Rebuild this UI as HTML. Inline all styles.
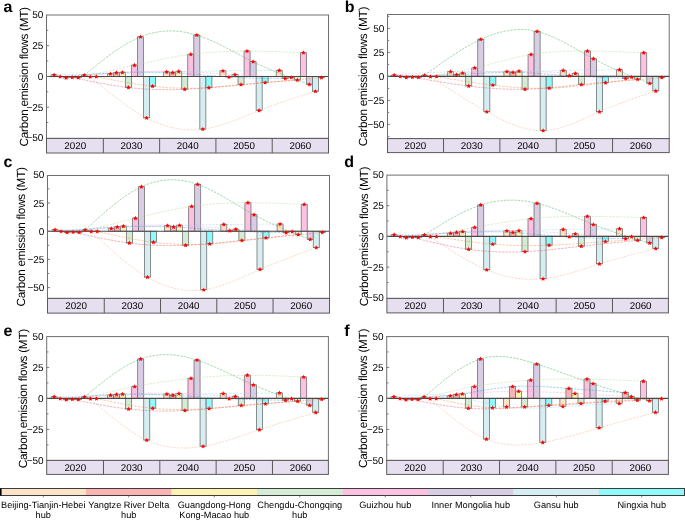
<!DOCTYPE html>
<html><head><meta charset="utf-8"><style>html,body{margin:0;padding:0;background:#fff;width:685px;height:521px;overflow:hidden}svg{display:block;will-change:transform}text{text-rendering:geometricPrecision}</style></head><body>
<svg width="685" height="521" viewBox="0 0 685 521" font-family='"Liberation Sans", sans-serif' fill="#000"><clipPath id="clipa"><rect x="46.5" y="15" width="282" height="123.4"/></clipPath>
<g>
<rect x="51.07" y="74.85" width="6.03" height="1.6" fill="#fde3c8" stroke="#6a6a6a" stroke-width="0.75"/>
<rect x="57.1" y="76.45" width="6.03" height="0.25" fill="#fbb3b3" stroke="#6a6a6a" stroke-width="0.75"/>
<rect x="63.13" y="76.45" width="6.03" height="1.48" fill="#fef2b2" stroke="#6a6a6a" stroke-width="0.75"/>
<rect x="69.16" y="76.45" width="6.03" height="0.98" fill="#d3ecd3" stroke="#6a6a6a" stroke-width="0.75"/>
<rect x="75.19" y="76.45" width="6.03" height="1.23" fill="#fdc1e1" stroke="#6a6a6a" stroke-width="0.75"/>
<rect x="81.23" y="75.1" width="6.03" height="1.35" fill="#d9cce5" stroke="#6a6a6a" stroke-width="0.75"/>
<rect x="87.26" y="76.45" width="6.03" height="0.37" fill="#d5eef2" stroke="#6a6a6a" stroke-width="0.75"/>
<rect x="93.29" y="76.45" width="6.03" height="0.25" fill="#8ffafa" stroke="#6a6a6a" stroke-width="0.75"/>
<rect x="107.36" y="73.87" width="6.03" height="2.58" fill="#fde3c8" stroke="#6a6a6a" stroke-width="0.75"/>
<rect x="113.39" y="72.76" width="6.03" height="3.69" fill="#fbb3b3" stroke="#6a6a6a" stroke-width="0.75"/>
<rect x="119.42" y="72.51" width="6.03" height="3.94" fill="#fef2b2" stroke="#6a6a6a" stroke-width="0.75"/>
<rect x="125.45" y="76.45" width="6.03" height="11.07" fill="#d3ecd3" stroke="#6a6a6a" stroke-width="0.75"/>
<rect x="131.49" y="65.26" width="6.03" height="11.19" fill="#fdc1e1" stroke="#6a6a6a" stroke-width="0.75"/>
<rect x="137.52" y="36.84" width="6.03" height="39.61" fill="#d9cce5" stroke="#6a6a6a" stroke-width="0.75"/>
<rect x="143.55" y="76.45" width="6.03" height="41.45" fill="#d5eef2" stroke="#6a6a6a" stroke-width="0.75"/>
<rect x="149.58" y="76.45" width="6.03" height="9.84" fill="#8ffafa" stroke="#6a6a6a" stroke-width="0.75"/>
<rect x="163.65" y="72.02" width="6.03" height="4.43" fill="#fde3c8" stroke="#6a6a6a" stroke-width="0.75"/>
<rect x="169.68" y="72.76" width="6.03" height="3.69" fill="#fbb3b3" stroke="#6a6a6a" stroke-width="0.75"/>
<rect x="175.71" y="71.53" width="6.03" height="4.92" fill="#fef2b2" stroke="#6a6a6a" stroke-width="0.75"/>
<rect x="181.74" y="76.45" width="6.03" height="12.79" fill="#d3ecd3" stroke="#6a6a6a" stroke-width="0.75"/>
<rect x="187.77" y="54.31" width="6.03" height="22.14" fill="#fdc1e1" stroke="#6a6a6a" stroke-width="0.75"/>
<rect x="193.81" y="35.12" width="6.03" height="41.33" fill="#d9cce5" stroke="#6a6a6a" stroke-width="0.75"/>
<rect x="199.84" y="76.45" width="6.03" height="52.77" fill="#d5eef2" stroke="#6a6a6a" stroke-width="0.75"/>
<rect x="205.87" y="76.45" width="6.03" height="11.32" fill="#8ffafa" stroke="#6a6a6a" stroke-width="0.75"/>
<rect x="219.94" y="70.92" width="6.03" height="5.54" fill="#fde3c8" stroke="#6a6a6a" stroke-width="0.75"/>
<rect x="225.97" y="76.45" width="6.03" height="0.61" fill="#fbb3b3" stroke="#6a6a6a" stroke-width="0.75"/>
<rect x="232" y="74.61" width="6.03" height="1.84" fill="#fef2b2" stroke="#6a6a6a" stroke-width="0.75"/>
<rect x="238.03" y="76.45" width="6.03" height="8.12" fill="#d3ecd3" stroke="#6a6a6a" stroke-width="0.75"/>
<rect x="244.06" y="51.11" width="6.03" height="25.34" fill="#fdc1e1" stroke="#6a6a6a" stroke-width="0.75"/>
<rect x="250.1" y="61.69" width="6.03" height="14.76" fill="#d9cce5" stroke="#6a6a6a" stroke-width="0.75"/>
<rect x="256.13" y="76.45" width="6.03" height="34.07" fill="#d5eef2" stroke="#6a6a6a" stroke-width="0.75"/>
<rect x="262.16" y="76.45" width="6.03" height="6.15" fill="#8ffafa" stroke="#6a6a6a" stroke-width="0.75"/>
<rect x="276.23" y="70.42" width="6.03" height="6.03" fill="#fde3c8" stroke="#6a6a6a" stroke-width="0.75"/>
<rect x="282.26" y="76.45" width="6.03" height="1.97" fill="#fbb3b3" stroke="#6a6a6a" stroke-width="0.75"/>
<rect x="288.29" y="76.45" width="6.03" height="0.98" fill="#fef2b2" stroke="#6a6a6a" stroke-width="0.75"/>
<rect x="294.32" y="76.45" width="6.03" height="3.69" fill="#d3ecd3" stroke="#6a6a6a" stroke-width="0.75"/>
<rect x="300.36" y="52.71" width="6.03" height="23.74" fill="#fdc1e1" stroke="#6a6a6a" stroke-width="0.75"/>
<rect x="306.39" y="76.45" width="6.03" height="8" fill="#d9cce5" stroke="#6a6a6a" stroke-width="0.75"/>
<rect x="312.42" y="76.45" width="6.03" height="14.88" fill="#d5eef2" stroke="#6a6a6a" stroke-width="0.75"/>
<rect x="318.45" y="76.45" width="6.03" height="1.23" fill="#8ffafa" stroke="#6a6a6a" stroke-width="0.75"/>
</g>
<g clip-path="url(#clipa)" fill="none" stroke-width="0.45" stroke-dasharray="2.4 1.1">
<path d="M54.1,74.9 L56.9,74.8 L59.8,74.8 L62.6,74.7 L65.5,74.7 L68.3,74.7 L71.2,74.6 L74.0,74.6 L76.9,74.5 L79.7,74.5 L82.6,74.5 L85.4,74.4 L88.3,74.4 L91.1,74.3 L94.0,74.2 L96.8,74.2 L99.7,74.1 L102.5,74.1 L105.4,74.0 L108.2,73.9 L111.1,73.8 L113.9,73.8 L116.8,73.7 L119.6,73.6 L122.5,73.5 L125.3,73.4 L128.2,73.3 L131.0,73.2 L133.9,73.1 L136.7,73.0 L139.6,72.9 L142.4,72.8 L145.3,72.7 L148.1,72.6 L151.0,72.5 L153.8,72.4 L156.7,72.3 L159.5,72.2 L162.4,72.2 L165.2,72.1 L168.1,72.0 L170.9,71.9 L173.8,71.8 L176.6,71.7 L179.5,71.7 L182.3,71.6 L185.2,71.5 L188.0,71.5 L190.9,71.4 L193.7,71.4 L196.6,71.3 L199.4,71.3 L202.3,71.2 L205.1,71.2 L208.0,71.1 L210.8,71.1 L213.7,71.0 L216.5,71.0 L219.4,71.0 L222.2,70.9 L225.1,70.9 L227.9,70.9 L230.8,70.8 L233.6,70.8 L236.5,70.8 L239.3,70.7 L242.2,70.7 L245.0,70.7 L247.9,70.7 L250.7,70.6 L253.6,70.6 L256.4,70.6 L259.3,70.6 L262.1,70.5 L265.0,70.5 L267.8,70.5 L270.7,70.5 L273.5,70.5 L276.4,70.4 L279.2,70.4" stroke="#9dd2f2"/>
<path d="M60.1,76.7 L63.0,76.5 L65.8,76.2 L68.7,76.0 L71.5,75.8 L74.4,75.5 L77.2,75.3 L80.1,75.1 L82.9,74.9 L85.8,74.7 L88.6,74.4 L91.5,74.2 L94.3,74.0 L97.2,73.8 L100.0,73.7 L102.9,73.5 L105.7,73.3 L108.6,73.2 L111.4,73.0 L114.3,72.9 L117.1,72.7 L120.0,72.6 L122.8,72.5 L125.7,72.4 L128.5,72.3 L131.4,72.2 L134.2,72.2 L137.1,72.1 L139.9,72.1 L142.8,72.1 L145.6,72.1 L148.5,72.1 L151.3,72.1 L154.2,72.1 L157.0,72.2 L159.9,72.2 L162.7,72.3 L165.6,72.4 L168.4,72.6 L171.3,72.7 L174.1,72.8 L177.0,73.0 L179.8,73.2 L182.7,73.4 L185.5,73.6 L188.4,73.8 L191.2,74.1 L194.1,74.3 L196.9,74.5 L199.8,74.8 L202.6,75.0 L205.5,75.3 L208.3,75.5 L211.2,75.7 L214.0,76.0 L216.9,76.2 L219.7,76.4 L222.6,76.6 L225.4,76.8 L228.3,77.0 L231.1,77.2 L234.0,77.3 L236.8,77.5 L239.7,77.6 L242.5,77.7 L245.4,77.8 L248.2,77.9 L251.1,78.0 L253.9,78.1 L256.8,78.1 L259.6,78.2 L262.5,78.2 L265.3,78.3 L268.2,78.3 L271.0,78.3 L273.9,78.3 L276.7,78.4 L279.6,78.4 L282.4,78.4 L285.3,78.4" stroke="#3a98d8"/>
<path d="M66.1,77.9 L69.0,77.6 L71.8,77.3 L74.7,77.0 L77.5,76.7 L80.4,76.3 L83.2,76.0 L86.1,75.7 L88.9,75.4 L91.8,75.1 L94.6,74.8 L97.5,74.6 L100.3,74.3 L103.2,74.0 L106.1,73.8 L108.9,73.5 L111.8,73.3 L114.6,73.1 L117.5,72.9 L120.3,72.7 L123.2,72.5 L126.0,72.3 L128.9,72.1 L131.7,72.0 L134.6,71.9 L137.4,71.7 L140.3,71.6 L143.1,71.5 L146.0,71.5 L148.8,71.4 L151.7,71.3 L154.5,71.3 L157.4,71.3 L160.2,71.3 L163.1,71.3 L165.9,71.3 L168.8,71.3 L171.6,71.4 L174.5,71.4 L177.3,71.5 L180.2,71.6 L183.0,71.7 L185.9,71.8 L188.7,71.9 L191.6,72.0 L194.4,72.2 L197.3,72.3 L200.1,72.5 L203.0,72.6 L205.8,72.8 L208.7,73.0 L211.5,73.1 L214.4,73.3 L217.2,73.5 L220.1,73.7 L222.9,73.9 L225.8,74.0 L228.6,74.2 L231.5,74.4 L234.3,74.6 L237.2,74.7 L240.0,74.9 L242.9,75.1 L245.7,75.2 L248.6,75.4 L251.4,75.5 L254.3,75.7 L257.1,75.8 L260.0,76.0 L262.8,76.1 L265.7,76.2 L268.5,76.4 L271.4,76.5 L274.2,76.7 L277.1,76.8 L279.9,76.9 L282.8,77.0 L285.6,77.2 L288.5,77.3 L291.3,77.4" stroke="#f2a6c8"/>
<path d="M72.2,77.4 L75.0,78.0 L77.9,78.6 L80.7,79.2 L83.6,79.8 L86.4,80.4 L89.3,81.0 L92.1,81.6 L95.0,82.1 L97.8,82.7 L100.7,83.2 L103.5,83.7 L106.4,84.2 L109.2,84.7 L112.1,85.2 L114.9,85.7 L117.8,86.1 L120.6,86.5 L123.5,86.9 L126.3,87.3 L129.2,87.6 L132.0,87.9 L134.9,88.2 L137.7,88.5 L140.6,88.7 L143.4,88.9 L146.3,89.1 L149.1,89.2 L152.0,89.4 L154.8,89.5 L157.7,89.5 L160.5,89.6 L163.4,89.6 L166.2,89.7 L169.1,89.7 L171.9,89.6 L174.8,89.6 L177.6,89.5 L180.5,89.4 L183.3,89.3 L186.2,89.2 L189.0,89.0 L191.9,88.9 L194.7,88.7 L197.6,88.5 L200.4,88.3 L203.3,88.1 L206.1,87.8 L209.0,87.6 L211.8,87.3 L214.7,87.1 L217.5,86.8 L220.4,86.5 L223.2,86.3 L226.1,86.0 L228.9,85.7 L231.8,85.4 L234.6,85.2 L237.5,84.9 L240.3,84.6 L243.2,84.4 L246.0,84.1 L248.9,83.9 L251.7,83.6 L254.6,83.4 L257.4,83.1 L260.3,82.9 L263.1,82.7 L266.0,82.5 L268.8,82.2 L271.7,82.0 L274.5,81.8 L277.4,81.6 L280.2,81.4 L283.1,81.2 L285.9,81.0 L288.8,80.8 L291.6,80.6 L294.5,80.3 L297.3,80.1" stroke="#e0506a"/>
<path d="M78.2,77.7 L81.1,77.1 L83.9,76.4 L86.8,75.8 L89.6,75.2 L92.5,74.6 L95.3,73.9 L98.2,73.3 L101.0,72.7 L103.9,72.0 L106.7,71.4 L109.6,70.8 L112.4,70.2 L115.3,69.5 L118.1,68.9 L121.0,68.3 L123.8,67.6 L126.7,67.0 L129.5,66.4 L132.4,65.7 L135.2,65.1 L138.1,64.5 L140.9,63.8 L143.8,63.2 L146.6,62.6 L149.5,61.9 L152.3,61.3 L155.2,60.7 L158.0,60.1 L160.9,59.5 L163.7,58.9 L166.6,58.4 L169.4,57.8 L172.3,57.3 L175.1,56.8 L178.0,56.3 L180.8,55.8 L183.7,55.3 L186.5,54.9 L189.4,54.5 L192.2,54.1 L195.1,53.8 L197.9,53.4 L200.8,53.1 L203.6,52.9 L206.5,52.6 L209.3,52.4 L212.2,52.2 L215.0,52.0 L217.9,51.8 L220.7,51.7 L223.6,51.5 L226.4,51.4 L229.3,51.3 L232.1,51.3 L235.0,51.2 L237.8,51.2 L240.7,51.1 L243.5,51.1 L246.4,51.1 L249.2,51.1 L252.1,51.1 L254.9,51.2 L257.8,51.2 L260.6,51.3 L263.5,51.3 L266.3,51.4 L269.2,51.4 L272.0,51.5 L274.9,51.6 L277.7,51.7 L280.6,51.8 L283.4,51.9 L286.3,52.0 L289.1,52.1 L292.0,52.2 L294.8,52.4 L297.7,52.5 L300.5,52.6 L303.4,52.7" stroke="#b0d890"/>
<path d="M84.2,75.1 L87.1,72.8 L89.9,70.5 L92.8,68.1 L95.6,65.9 L98.5,63.6 L101.3,61.4 L104.2,59.2 L107.0,57.0 L109.9,54.9 L112.7,52.8 L115.6,50.8 L118.4,48.9 L121.3,47.0 L124.1,45.3 L127.0,43.6 L129.8,42.0 L132.7,40.5 L135.5,39.0 L138.4,37.7 L141.2,36.6 L144.1,35.5 L146.9,34.5 L149.8,33.7 L152.6,33.0 L155.5,32.4 L158.3,31.9 L161.2,31.5 L164.0,31.2 L166.9,31.0 L169.7,30.9 L172.6,31.0 L175.4,31.1 L178.3,31.3 L181.1,31.6 L184.0,32.1 L186.8,32.6 L189.7,33.2 L192.5,33.9 L195.4,34.7 L198.2,35.6 L201.1,36.5 L203.9,37.6 L206.8,38.7 L209.6,39.9 L212.5,41.1 L215.3,42.4 L218.2,43.8 L221.0,45.2 L223.9,46.6 L226.7,48.1 L229.6,49.5 L232.4,51.0 L235.3,52.5 L238.1,54.0 L241.0,55.5 L243.8,57.0 L246.7,58.5 L249.5,59.9 L252.4,61.3 L255.2,62.7 L258.1,64.1 L260.9,65.4 L263.8,66.7 L266.6,67.9 L269.5,69.2 L272.3,70.4 L275.2,71.5 L278.1,72.7 L280.9,73.8 L283.8,74.9 L286.6,76.0 L289.5,77.1 L292.3,78.2 L295.2,79.3 L298.0,80.3 L300.9,81.3 L303.7,82.4 L306.6,83.4 L309.4,84.4" stroke="#3aa84a"/>
<path d="M90.3,76.8 L93.1,79.2 L96.0,81.6 L98.8,83.9 L101.7,86.3 L104.5,88.6 L107.4,90.9 L110.2,93.2 L113.1,95.4 L115.9,97.6 L118.8,99.8 L121.6,101.9 L124.5,104.0 L127.3,106.0 L130.2,108.0 L133.0,109.9 L135.9,111.7 L138.7,113.5 L141.6,115.2 L144.4,116.8 L147.3,118.3 L150.1,119.7 L153.0,121.0 L155.8,122.3 L158.7,123.4 L161.5,124.5 L164.4,125.4 L167.2,126.3 L170.1,127.1 L172.9,127.8 L175.8,128.4 L178.6,128.9 L181.5,129.3 L184.3,129.6 L187.2,129.8 L190.0,129.9 L192.9,129.9 L195.7,129.8 L198.6,129.7 L201.4,129.4 L204.3,129.0 L207.1,128.6 L210.0,128.0 L212.8,127.4 L215.7,126.6 L218.5,125.8 L221.4,125.0 L224.2,124.1 L227.1,123.1 L229.9,122.1 L232.8,121.1 L235.6,120.0 L238.5,118.9 L241.3,117.7 L244.2,116.6 L247.0,115.4 L249.9,114.3 L252.7,113.1 L255.6,111.9 L258.4,110.8 L261.3,109.7 L264.1,108.6 L267.0,107.5 L269.8,106.5 L272.7,105.4 L275.5,104.4 L278.4,103.4 L281.2,102.4 L284.1,101.5 L286.9,100.5 L289.8,99.5 L292.6,98.6 L295.5,97.7 L298.3,96.8 L301.2,95.8 L304.0,94.9 L306.9,94.0 L309.7,93.1 L312.6,92.2 L315.4,91.3" stroke="#f6b088"/>
<path d="M96.3,76.7 L99.2,77.3 L102.0,77.8 L104.9,78.4 L107.7,79.0 L110.6,79.5 L113.4,80.1 L116.3,80.6 L119.1,81.2 L122.0,81.7 L124.8,82.2 L127.7,82.7 L130.5,83.2 L133.4,83.6 L136.2,84.1 L139.1,84.5 L141.9,84.9 L144.8,85.3 L147.6,85.7 L150.5,86.0 L153.3,86.4 L156.2,86.7 L159.0,86.9 L161.9,87.2 L164.7,87.4 L167.6,87.6 L170.4,87.8 L173.3,87.9 L176.1,88.0 L179.0,88.1 L181.8,88.2 L184.7,88.2 L187.5,88.3 L190.4,88.3 L193.2,88.3 L196.1,88.2 L198.9,88.2 L201.8,88.1 L204.6,88.0 L207.5,87.8 L210.3,87.7 L213.2,87.5 L216.0,87.3 L218.9,87.1 L221.7,86.9 L224.6,86.7 L227.4,86.4 L230.3,86.2 L233.1,85.9 L236.0,85.6 L238.8,85.4 L241.7,85.1 L244.5,84.8 L247.4,84.5 L250.2,84.2 L253.1,83.9 L255.9,83.6 L258.8,83.3 L261.6,83.0 L264.5,82.7 L267.3,82.4 L270.2,82.1 L273.0,81.8 L275.9,81.6 L278.7,81.3 L281.6,81.0 L284.4,80.8 L287.3,80.5 L290.1,80.3 L293.0,80.0 L295.8,79.8 L298.7,79.5 L301.5,79.3 L304.4,79.1 L307.2,78.8 L310.1,78.6 L312.9,78.4 L315.8,78.1 L318.6,77.9 L321.5,77.7" stroke="#f0903a"/>
</g>
<line x1="46.5" y1="76.45" x2="328.5" y2="76.45" stroke="#484848" stroke-width="1.1"/>
<g fill="#ff0000">
<path d="M54.09,72.40 L54.76,73.92 L56.42,74.09 L55.18,75.21 L55.53,76.83 L54.09,76.00 L52.65,76.83 L52.99,75.21 L51.76,74.09 L53.41,73.92Z"/>
<path d="M60.12,74.25 L60.79,75.77 L62.45,75.94 L61.21,77.05 L61.56,78.68 L60.12,77.85 L58.68,78.68 L59.02,77.05 L57.79,75.94 L59.44,75.77Z"/>
<path d="M66.15,75.48 L66.82,77.00 L68.48,77.17 L67.24,78.28 L67.59,79.91 L66.15,79.08 L64.71,79.91 L65.05,78.28 L63.82,77.17 L65.47,77.00Z"/>
<path d="M72.18,74.98 L72.86,76.50 L74.51,76.68 L73.27,77.79 L73.62,79.42 L72.18,78.58 L70.74,79.42 L71.09,77.79 L69.85,76.68 L71.50,76.50Z"/>
<path d="M78.21,75.23 L78.89,76.75 L80.54,76.92 L79.30,78.04 L79.65,79.66 L78.21,78.83 L76.77,79.66 L77.12,78.04 L75.88,76.92 L77.53,76.75Z"/>
<path d="M84.24,72.65 L84.92,74.17 L86.57,74.34 L85.34,75.45 L85.68,77.08 L84.24,76.25 L82.80,77.08 L83.15,75.45 L81.91,74.34 L83.57,74.17Z"/>
<path d="M90.27,74.37 L90.95,75.89 L92.60,76.06 L91.37,77.17 L91.71,78.80 L90.27,77.97 L88.83,78.80 L89.18,77.17 L87.94,76.06 L89.60,75.89Z"/>
<path d="M96.30,74.25 L96.98,75.77 L98.63,75.94 L97.40,77.05 L97.74,78.68 L96.30,77.85 L94.86,78.68 L95.21,77.05 L93.97,75.94 L95.63,75.77Z"/>
<path d="M110.38,71.42 L111.05,72.94 L112.71,73.11 L111.47,74.22 L111.82,75.85 L110.38,75.02 L108.94,75.85 L109.28,74.22 L108.05,73.11 L109.70,72.94Z"/>
<path d="M116.41,70.31 L117.08,71.83 L118.74,72.00 L117.50,73.12 L117.85,74.74 L116.41,73.91 L114.97,74.74 L115.31,73.12 L114.08,72.00 L115.73,71.83Z"/>
<path d="M122.44,70.06 L123.11,71.58 L124.77,71.76 L123.53,72.87 L123.88,74.50 L122.44,73.66 L121.00,74.50 L121.34,72.87 L120.11,71.76 L121.76,71.58Z"/>
<path d="M128.47,85.07 L129.15,86.59 L130.80,86.76 L129.56,87.88 L129.91,89.50 L128.47,88.67 L127.03,89.50 L127.38,87.88 L126.14,86.76 L127.79,86.59Z"/>
<path d="M134.50,62.81 L135.18,64.33 L136.83,64.50 L135.59,65.61 L135.94,67.24 L134.50,66.41 L133.06,67.24 L133.41,65.61 L132.17,64.50 L133.82,64.33Z"/>
<path d="M140.53,34.39 L141.21,35.91 L142.86,36.09 L141.63,37.20 L141.97,38.83 L140.53,37.99 L139.09,38.83 L139.44,37.20 L138.20,36.09 L139.86,35.91Z"/>
<path d="M146.56,115.45 L147.24,116.97 L148.89,117.14 L147.66,118.26 L148.00,119.88 L146.56,119.05 L145.12,119.88 L145.47,118.26 L144.23,117.14 L145.89,116.97Z"/>
<path d="M152.59,83.84 L153.27,85.36 L154.92,85.53 L153.69,86.65 L154.03,88.27 L152.59,87.44 L151.15,88.27 L151.50,86.65 L150.26,85.53 L151.92,85.36Z"/>
<path d="M166.67,69.57 L167.34,71.09 L169.00,71.26 L167.76,72.38 L168.11,74.00 L166.67,73.17 L165.23,74.00 L165.57,72.38 L164.34,71.26 L165.99,71.09Z"/>
<path d="M172.70,70.31 L173.37,71.83 L175.03,72.00 L173.79,73.12 L174.14,74.74 L172.70,73.91 L171.26,74.74 L171.60,73.12 L170.37,72.00 L172.02,71.83Z"/>
<path d="M178.73,69.08 L179.40,70.60 L181.06,70.77 L179.82,71.89 L180.17,73.51 L178.73,72.68 L177.29,73.51 L177.63,71.89 L176.40,70.77 L178.05,70.60Z"/>
<path d="M184.76,86.79 L185.44,88.31 L187.09,88.48 L185.85,89.60 L186.20,91.22 L184.76,90.39 L183.32,91.22 L183.67,89.60 L182.43,88.48 L184.08,88.31Z"/>
<path d="M190.79,51.86 L191.47,53.38 L193.12,53.55 L191.88,54.67 L192.23,56.29 L190.79,55.46 L189.35,56.29 L189.70,54.67 L188.46,53.55 L190.11,53.38Z"/>
<path d="M196.82,32.67 L197.50,34.19 L199.15,34.36 L197.92,35.48 L198.26,37.10 L196.82,36.27 L195.38,37.10 L195.73,35.48 L194.49,34.36 L196.15,34.19Z"/>
<path d="M202.85,126.77 L203.53,128.29 L205.18,128.46 L203.95,129.57 L204.29,131.20 L202.85,130.37 L201.41,131.20 L201.76,129.57 L200.52,128.46 L202.18,128.29Z"/>
<path d="M208.88,85.32 L209.56,86.84 L211.21,87.01 L209.98,88.12 L210.32,89.75 L208.88,88.92 L207.44,89.75 L207.79,88.12 L206.55,87.01 L208.21,86.84Z"/>
<path d="M222.96,68.47 L223.63,69.98 L225.29,70.16 L224.05,71.27 L224.40,72.90 L222.96,72.07 L221.52,72.90 L221.86,71.27 L220.63,70.16 L222.28,69.98Z"/>
<path d="M228.99,74.61 L229.66,76.13 L231.32,76.31 L230.08,77.42 L230.43,79.05 L228.99,78.22 L227.55,79.05 L227.89,77.42 L226.66,76.31 L228.31,76.13Z"/>
<path d="M235.02,72.16 L235.69,73.67 L237.35,73.85 L236.11,74.96 L236.46,76.59 L235.02,75.76 L233.58,76.59 L233.92,74.96 L232.69,73.85 L234.34,73.67Z"/>
<path d="M241.05,82.12 L241.73,83.64 L243.38,83.81 L242.14,84.92 L242.49,86.55 L241.05,85.72 L239.61,86.55 L239.96,84.92 L238.72,83.81 L240.37,83.64Z"/>
<path d="M247.08,48.66 L247.76,50.18 L249.41,50.35 L248.17,51.47 L248.52,53.09 L247.08,52.26 L245.64,53.09 L245.99,51.47 L244.75,50.35 L246.40,50.18Z"/>
<path d="M253.11,59.24 L253.79,60.76 L255.44,60.93 L254.21,62.05 L254.55,63.67 L253.11,62.84 L251.67,63.67 L252.02,62.05 L250.78,60.93 L252.44,60.76Z"/>
<path d="M259.14,108.07 L259.82,109.59 L261.47,109.76 L260.24,110.88 L260.58,112.50 L259.14,111.67 L257.70,112.50 L258.05,110.88 L256.81,109.76 L258.47,109.59Z"/>
<path d="M265.17,80.15 L265.85,81.67 L267.50,81.84 L266.27,82.96 L266.61,84.58 L265.17,83.75 L263.73,84.58 L264.08,82.96 L262.84,81.84 L264.50,81.67Z"/>
<path d="M279.25,67.97 L279.92,69.49 L281.58,69.67 L280.34,70.78 L280.69,72.41 L279.25,71.57 L277.81,72.41 L278.15,70.78 L276.92,69.67 L278.57,69.49Z"/>
<path d="M285.28,75.97 L285.95,77.49 L287.61,77.66 L286.37,78.77 L286.72,80.40 L285.28,79.57 L283.84,80.40 L284.18,78.77 L282.95,77.66 L284.60,77.49Z"/>
<path d="M291.31,74.98 L291.98,76.50 L293.64,76.68 L292.40,77.79 L292.75,79.42 L291.31,78.58 L289.87,79.42 L290.21,77.79 L288.98,76.68 L290.63,76.50Z"/>
<path d="M297.34,77.69 L298.02,79.21 L299.67,79.38 L298.43,80.50 L298.78,82.12 L297.34,81.29 L295.90,82.12 L296.25,80.50 L295.01,79.38 L296.66,79.21Z"/>
<path d="M303.37,50.26 L304.05,51.78 L305.70,51.95 L304.46,53.07 L304.81,54.69 L303.37,53.86 L301.93,54.69 L302.28,53.07 L301.04,51.95 L302.69,51.78Z"/>
<path d="M309.40,82.00 L310.08,83.51 L311.73,83.69 L310.50,84.80 L310.84,86.43 L309.40,85.60 L307.96,86.43 L308.31,84.80 L307.07,83.69 L308.73,83.51Z"/>
<path d="M315.43,88.88 L316.11,90.40 L317.76,90.58 L316.53,91.69 L316.87,93.32 L315.43,92.48 L313.99,93.32 L314.34,91.69 L313.10,90.58 L314.76,90.40Z"/>
<path d="M321.46,75.23 L322.14,76.75 L323.79,76.92 L322.56,78.04 L322.90,79.66 L321.46,78.83 L320.02,79.66 L320.37,78.04 L319.13,76.92 L320.79,76.75Z"/>
</g>
<rect x="46.5" y="15" width="282" height="123.4" fill="none" stroke="#6e6e6e" stroke-width="1.0"/>
<g stroke="#6e6e6e" stroke-width="0.9"><line x1="46.5" y1="122.58" x2="48.3" y2="122.58"/><line x1="46.5" y1="107.2" x2="49" y2="107.2"/><line x1="46.5" y1="91.83" x2="48.3" y2="91.83"/><line x1="46.5" y1="76.45" x2="49" y2="76.45"/><line x1="46.5" y1="61.08" x2="48.3" y2="61.08"/><line x1="46.5" y1="45.7" x2="49" y2="45.7"/><line x1="46.5" y1="30.33" x2="48.3" y2="30.33"/></g>
<text x="43.4" y="18.45" text-anchor="end" font-size="10.0">50</text>
<text x="43.4" y="49.2" text-anchor="end" font-size="10.0">25</text>
<text x="43.4" y="79.95" text-anchor="end" font-size="10.0">0</text>
<text x="43.4" y="110.7" text-anchor="end" font-size="10.0">−25</text>
<text x="43.4" y="141.45" text-anchor="end" font-size="10.0">−50</text>
<rect x="46.5" y="138.4" width="282" height="14.6" fill="#e6dff0" stroke="#5a5a5a" stroke-width="1"/>
<line x1="103.34" y1="138.4" x2="103.34" y2="153" stroke="#5a5a5a" stroke-width="1"/>
<line x1="159.63" y1="138.4" x2="159.63" y2="153" stroke="#5a5a5a" stroke-width="1"/>
<line x1="215.92" y1="138.4" x2="215.92" y2="153" stroke="#5a5a5a" stroke-width="1"/>
<line x1="272.21" y1="138.4" x2="272.21" y2="153" stroke="#5a5a5a" stroke-width="1"/>
<text x="75.19" y="149.1" text-anchor="middle" font-size="9.8">2020</text>
<text x="131.49" y="149.1" text-anchor="middle" font-size="9.8">2030</text>
<text x="187.77" y="149.1" text-anchor="middle" font-size="9.8">2040</text>
<text x="244.06" y="149.1" text-anchor="middle" font-size="9.8">2050</text>
<text x="300.36" y="149.1" text-anchor="middle" font-size="9.8">2060</text>
<text transform="translate(27.6,76.7) rotate(-90)" text-anchor="middle" font-size="11.8" textLength="139.5" lengthAdjust="spacing">Carbon emission flows (MT)</text>
<text x="3.4" y="11.5" font-size="16.0" font-weight="bold">a</text>
<clipPath id="clipb"><rect x="387.5" y="14.5" width="281.7" height="124.1"/></clipPath>
<g>
<rect x="391.25" y="75.15" width="6.04" height="1.25" fill="#fde3c8" stroke="#6a6a6a" stroke-width="0.75"/>
<rect x="397.29" y="76.4" width="6.04" height="0.19" fill="#fbb3b3" stroke="#6a6a6a" stroke-width="0.75"/>
<rect x="403.32" y="76.4" width="6.04" height="1.15" fill="#fef2b2" stroke="#6a6a6a" stroke-width="0.75"/>
<rect x="409.36" y="76.4" width="6.04" height="0.77" fill="#d3ecd3" stroke="#6a6a6a" stroke-width="0.75"/>
<rect x="415.4" y="76.4" width="6.04" height="0.96" fill="#fdc1e1" stroke="#6a6a6a" stroke-width="0.75"/>
<rect x="421.43" y="75.34" width="6.04" height="1.06" fill="#d9cce5" stroke="#6a6a6a" stroke-width="0.75"/>
<rect x="427.47" y="76.4" width="6.04" height="0.29" fill="#d5eef2" stroke="#6a6a6a" stroke-width="0.75"/>
<rect x="433.5" y="76.4" width="6.04" height="0.19" fill="#8ffafa" stroke="#6a6a6a" stroke-width="0.75"/>
<rect x="447.58" y="71.7" width="6.04" height="4.7" fill="#fde3c8" stroke="#6a6a6a" stroke-width="0.75"/>
<rect x="453.62" y="74.67" width="6.04" height="1.73" fill="#fbb3b3" stroke="#6a6a6a" stroke-width="0.75"/>
<rect x="459.65" y="73.14" width="6.04" height="3.26" fill="#fef2b2" stroke="#6a6a6a" stroke-width="0.75"/>
<rect x="465.69" y="76.4" width="6.04" height="9.6" fill="#d3ecd3" stroke="#6a6a6a" stroke-width="0.75"/>
<rect x="471.73" y="67.95" width="6.04" height="8.45" fill="#fdc1e1" stroke="#6a6a6a" stroke-width="0.75"/>
<rect x="477.76" y="39.34" width="6.04" height="37.06" fill="#d9cce5" stroke="#6a6a6a" stroke-width="0.75"/>
<rect x="483.8" y="76.4" width="6.04" height="35.42" fill="#d5eef2" stroke="#6a6a6a" stroke-width="0.75"/>
<rect x="489.83" y="76.4" width="6.04" height="8.74" fill="#8ffafa" stroke="#6a6a6a" stroke-width="0.75"/>
<rect x="503.91" y="71.6" width="6.04" height="4.8" fill="#fde3c8" stroke="#6a6a6a" stroke-width="0.75"/>
<rect x="509.95" y="72.37" width="6.04" height="4.03" fill="#fbb3b3" stroke="#6a6a6a" stroke-width="0.75"/>
<rect x="515.98" y="71.22" width="6.04" height="5.18" fill="#fef2b2" stroke="#6a6a6a" stroke-width="0.75"/>
<rect x="522.02" y="76.4" width="6.04" height="12.86" fill="#d3ecd3" stroke="#6a6a6a" stroke-width="0.75"/>
<rect x="528.06" y="54.42" width="6.04" height="21.98" fill="#fdc1e1" stroke="#6a6a6a" stroke-width="0.75"/>
<rect x="534.09" y="31.47" width="6.04" height="44.93" fill="#d9cce5" stroke="#6a6a6a" stroke-width="0.75"/>
<rect x="540.13" y="76.4" width="6.04" height="54.24" fill="#d5eef2" stroke="#6a6a6a" stroke-width="0.75"/>
<rect x="546.16" y="76.4" width="6.04" height="11.81" fill="#8ffafa" stroke="#6a6a6a" stroke-width="0.75"/>
<rect x="560.24" y="70.54" width="6.04" height="5.86" fill="#fde3c8" stroke="#6a6a6a" stroke-width="0.75"/>
<rect x="566.28" y="75.73" width="6.04" height="0.67" fill="#fbb3b3" stroke="#6a6a6a" stroke-width="0.75"/>
<rect x="572.31" y="73.52" width="6.04" height="2.88" fill="#fef2b2" stroke="#6a6a6a" stroke-width="0.75"/>
<rect x="578.35" y="76.4" width="6.04" height="8.16" fill="#d3ecd3" stroke="#6a6a6a" stroke-width="0.75"/>
<rect x="584.38" y="51.06" width="6.04" height="25.34" fill="#fdc1e1" stroke="#6a6a6a" stroke-width="0.75"/>
<rect x="590.42" y="58.74" width="6.04" height="17.66" fill="#d9cce5" stroke="#6a6a6a" stroke-width="0.75"/>
<rect x="596.46" y="76.4" width="6.04" height="35.42" fill="#d5eef2" stroke="#6a6a6a" stroke-width="0.75"/>
<rect x="602.49" y="76.4" width="6.04" height="6.34" fill="#8ffafa" stroke="#6a6a6a" stroke-width="0.75"/>
<rect x="616.57" y="69.78" width="6.04" height="6.62" fill="#fde3c8" stroke="#6a6a6a" stroke-width="0.75"/>
<rect x="622.61" y="76.4" width="6.04" height="1.92" fill="#fbb3b3" stroke="#6a6a6a" stroke-width="0.75"/>
<rect x="628.64" y="76.4" width="6.04" height="0.77" fill="#fef2b2" stroke="#6a6a6a" stroke-width="0.75"/>
<rect x="634.68" y="76.4" width="6.04" height="2.98" fill="#d3ecd3" stroke="#6a6a6a" stroke-width="0.75"/>
<rect x="640.72" y="52.78" width="6.04" height="23.62" fill="#fdc1e1" stroke="#6a6a6a" stroke-width="0.75"/>
<rect x="646.75" y="76.4" width="6.04" height="7.01" fill="#d9cce5" stroke="#6a6a6a" stroke-width="0.75"/>
<rect x="652.79" y="76.4" width="6.04" height="14.59" fill="#d5eef2" stroke="#6a6a6a" stroke-width="0.75"/>
<rect x="658.82" y="76.4" width="6.04" height="1.15" fill="#8ffafa" stroke="#6a6a6a" stroke-width="0.75"/>
</g>
<g clip-path="url(#clipb)" fill="none" stroke-width="0.45" stroke-dasharray="2.4 1.1">
<path d="M394.3,75.2 L397.1,74.9 L400.0,74.7 L402.8,74.5 L405.7,74.3 L408.5,74.0 L411.4,73.8 L414.2,73.6 L417.1,73.4 L419.9,73.2 L422.8,73.0 L425.6,72.9 L428.5,72.7 L431.3,72.5 L434.2,72.4 L437.1,72.2 L439.9,72.1 L442.8,72.0 L445.6,71.9 L448.5,71.8 L451.3,71.7 L454.2,71.6 L457.0,71.6 L459.9,71.5 L462.7,71.5 L465.6,71.5 L468.4,71.5 L471.3,71.5 L474.1,71.5 L477.0,71.5 L479.8,71.5 L482.7,71.5 L485.5,71.5 L488.4,71.5 L491.2,71.6 L494.1,71.6 L496.9,71.6 L499.8,71.6 L502.7,71.6 L505.5,71.6 L508.4,71.6 L511.2,71.6 L514.1,71.6 L516.9,71.5 L519.8,71.5 L522.6,71.4 L525.5,71.4 L528.3,71.3 L531.2,71.3 L534.0,71.2 L536.9,71.2 L539.7,71.1 L542.6,71.0 L545.4,71.0 L548.3,70.9 L551.1,70.8 L554.0,70.8 L556.8,70.7 L559.7,70.6 L562.5,70.6 L565.4,70.5 L568.3,70.4 L571.1,70.4 L574.0,70.3 L576.8,70.3 L579.7,70.2 L582.5,70.2 L585.4,70.2 L588.2,70.1 L591.1,70.1 L593.9,70.1 L596.8,70.0 L599.6,70.0 L602.5,70.0 L605.3,69.9 L608.2,69.9 L611.0,69.9 L613.9,69.8 L616.7,69.8 L619.6,69.8" stroke="#9dd2f2"/>
<path d="M400.3,76.6 L403.2,76.5 L406.0,76.4 L408.9,76.4 L411.7,76.3 L414.6,76.2 L417.4,76.2 L420.3,76.1 L423.1,76.0 L426.0,75.9 L428.8,75.8 L431.7,75.7 L434.5,75.6 L437.4,75.5 L440.2,75.4 L443.1,75.3 L445.9,75.2 L448.8,75.1 L451.6,74.9 L454.5,74.8 L457.3,74.6 L460.2,74.5 L463.1,74.3 L465.9,74.2 L468.8,74.0 L471.6,73.8 L474.5,73.6 L477.3,73.5 L480.2,73.3 L483.0,73.2 L485.9,73.0 L488.7,72.9 L491.6,72.8 L494.4,72.7 L497.3,72.6 L500.1,72.5 L503.0,72.4 L505.8,72.4 L508.7,72.4 L511.5,72.4 L514.4,72.4 L517.2,72.4 L520.1,72.5 L522.9,72.6 L525.8,72.7 L528.7,72.9 L531.5,73.0 L534.4,73.2 L537.2,73.4 L540.1,73.6 L542.9,73.8 L545.8,74.0 L548.6,74.2 L551.5,74.4 L554.3,74.6 L557.2,74.8 L560.0,75.1 L562.9,75.3 L565.7,75.5 L568.6,75.7 L571.4,75.9 L574.3,76.1 L577.1,76.2 L580.0,76.4 L582.8,76.5 L585.7,76.7 L588.5,76.8 L591.4,77.0 L594.3,77.1 L597.1,77.2 L600.0,77.4 L602.8,77.5 L605.7,77.6 L608.5,77.7 L611.4,77.8 L614.2,77.9 L617.1,78.0 L619.9,78.1 L622.8,78.2 L625.6,78.3" stroke="#3a98d8"/>
<path d="M406.3,77.6 L409.2,77.3 L412.0,77.1 L414.9,76.8 L417.8,76.6 L420.6,76.3 L423.5,76.1 L426.3,75.9 L429.2,75.6 L432.0,75.4 L434.9,75.2 L437.7,74.9 L440.6,74.7 L443.4,74.5 L446.3,74.3 L449.1,74.1 L452.0,73.9 L454.8,73.7 L457.7,73.5 L460.5,73.3 L463.4,73.1 L466.2,72.9 L469.1,72.7 L471.9,72.6 L474.8,72.4 L477.6,72.3 L480.5,72.1 L483.4,72.0 L486.2,71.9 L489.1,71.7 L491.9,71.6 L494.8,71.5 L497.6,71.5 L500.5,71.4 L503.3,71.3 L506.2,71.3 L509.0,71.2 L511.9,71.2 L514.7,71.2 L517.6,71.2 L520.4,71.2 L523.3,71.3 L526.1,71.3 L529.0,71.4 L531.8,71.4 L534.7,71.5 L537.5,71.6 L540.4,71.7 L543.2,71.8 L546.1,71.9 L548.9,72.1 L551.8,72.2 L554.7,72.3 L557.5,72.5 L560.4,72.6 L563.2,72.8 L566.1,73.0 L568.9,73.1 L571.8,73.3 L574.6,73.5 L577.5,73.7 L580.3,73.8 L583.2,74.0 L586.0,74.2 L588.9,74.4 L591.7,74.5 L594.6,74.7 L597.4,74.9 L600.3,75.1 L603.1,75.3 L606.0,75.5 L608.8,75.7 L611.7,75.8 L614.5,76.0 L617.4,76.2 L620.3,76.4 L623.1,76.6 L626.0,76.8 L628.8,77.0 L631.7,77.2" stroke="#f2a6c8"/>
<path d="M412.4,77.2 L415.2,77.7 L418.1,78.2 L420.9,78.6 L423.8,79.1 L426.6,79.6 L429.5,80.1 L432.3,80.6 L435.2,81.1 L438.0,81.5 L440.9,82.0 L443.8,82.4 L446.6,82.9 L449.5,83.3 L452.3,83.8 L455.2,84.2 L458.0,84.6 L460.9,85.0 L463.7,85.4 L466.6,85.7 L469.4,86.1 L472.3,86.4 L475.1,86.8 L478.0,87.1 L480.8,87.4 L483.7,87.6 L486.5,87.9 L489.4,88.1 L492.2,88.4 L495.1,88.6 L497.9,88.7 L500.8,88.9 L503.6,89.0 L506.5,89.1 L509.4,89.2 L512.2,89.3 L515.1,89.3 L517.9,89.3 L520.8,89.3 L523.6,89.3 L526.5,89.2 L529.3,89.1 L532.2,89.0 L535.0,88.9 L537.9,88.7 L540.7,88.5 L543.6,88.3 L546.4,88.1 L549.3,87.8 L552.1,87.6 L555.0,87.3 L557.8,87.0 L560.7,86.7 L563.5,86.4 L566.4,86.2 L569.2,85.8 L572.1,85.5 L574.9,85.2 L577.8,84.9 L580.7,84.6 L583.5,84.3 L586.4,84.0 L589.2,83.8 L592.1,83.5 L594.9,83.2 L597.8,82.9 L600.6,82.7 L603.5,82.4 L606.3,82.1 L609.2,81.9 L612.0,81.6 L614.9,81.4 L617.7,81.1 L620.6,80.9 L623.4,80.6 L626.3,80.4 L629.1,80.1 L632.0,79.9 L634.8,79.6 L637.7,79.4" stroke="#e0506a"/>
<path d="M418.4,77.4 L421.3,77.0 L424.1,76.6 L427.0,76.2 L429.8,75.8 L432.7,75.4 L435.5,75.0 L438.4,74.6 L441.2,74.1 L444.1,73.7 L446.9,73.3 L449.8,72.8 L452.6,72.3 L455.5,71.8 L458.3,71.3 L461.2,70.8 L464.0,70.2 L466.9,69.7 L469.8,69.1 L472.6,68.4 L475.5,67.8 L478.3,67.1 L481.2,66.4 L484.0,65.7 L486.9,65.0 L489.7,64.2 L492.6,63.5 L495.4,62.7 L498.3,62.0 L501.1,61.2 L504.0,60.5 L506.8,59.8 L509.7,59.0 L512.5,58.3 L515.4,57.7 L518.2,57.0 L521.1,56.4 L523.9,55.8 L526.8,55.2 L529.6,54.7 L532.5,54.2 L535.4,53.7 L538.2,53.3 L541.1,53.0 L543.9,52.6 L546.8,52.4 L549.6,52.1 L552.5,51.9 L555.3,51.7 L558.2,51.5 L561.0,51.4 L563.9,51.3 L566.7,51.2 L569.6,51.1 L572.4,51.1 L575.3,51.0 L578.1,51.0 L581.0,51.0 L583.8,51.0 L586.7,51.0 L589.5,51.1 L592.4,51.1 L595.2,51.2 L598.1,51.2 L601.0,51.3 L603.8,51.4 L606.7,51.4 L609.5,51.5 L612.4,51.6 L615.2,51.7 L618.1,51.8 L620.9,51.9 L623.8,52.0 L626.6,52.1 L629.5,52.2 L632.3,52.3 L635.2,52.4 L638.0,52.6 L640.9,52.7 L643.7,52.8" stroke="#b0d890"/>
<path d="M424.4,75.3 L427.3,73.3 L430.2,71.2 L433.0,69.1 L435.9,67.1 L438.7,65.1 L441.6,63.0 L444.4,61.0 L447.3,59.1 L450.1,57.1 L453.0,55.2 L455.8,53.4 L458.7,51.6 L461.5,49.8 L464.4,48.1 L467.2,46.4 L470.1,44.8 L472.9,43.2 L475.8,41.8 L478.6,40.4 L481.5,39.0 L484.3,37.8 L487.2,36.6 L490.0,35.5 L492.9,34.5 L495.8,33.5 L498.6,32.7 L501.5,32.0 L504.3,31.3 L507.2,30.8 L510.0,30.3 L512.9,30.0 L515.7,29.7 L518.6,29.6 L521.4,29.5 L524.3,29.6 L527.1,29.8 L530.0,30.1 L532.8,30.6 L535.7,31.1 L538.5,31.8 L541.4,32.6 L544.2,33.6 L547.1,34.6 L549.9,35.7 L552.8,36.9 L555.6,38.2 L558.5,39.6 L561.4,41.0 L564.2,42.5 L567.1,44.0 L569.9,45.6 L572.8,47.1 L575.6,48.8 L578.5,50.4 L581.3,52.0 L584.2,53.6 L587.0,55.2 L589.9,56.8 L592.7,58.4 L595.6,59.9 L598.4,61.3 L601.3,62.8 L604.1,64.2 L607.0,65.5 L609.8,66.9 L612.7,68.2 L615.5,69.5 L618.4,70.7 L621.2,71.9 L624.1,73.1 L627.0,74.3 L629.8,75.5 L632.7,76.7 L635.5,77.8 L638.4,78.9 L641.2,80.1 L644.1,81.2 L646.9,82.3 L649.8,83.4" stroke="#3aa84a"/>
<path d="M430.5,76.7 L433.3,78.6 L436.2,80.4 L439.0,82.3 L441.9,84.1 L444.7,86.0 L447.6,87.8 L450.4,89.7 L453.3,91.5 L456.2,93.3 L459.0,95.1 L461.9,96.9 L464.7,98.7 L467.6,100.5 L470.4,102.2 L473.3,103.9 L476.1,105.6 L479.0,107.3 L481.8,109.0 L484.7,110.6 L487.5,112.2 L490.4,113.8 L493.2,115.4 L496.1,116.9 L498.9,118.3 L501.8,119.7 L504.6,121.1 L507.5,122.4 L510.3,123.6 L513.2,124.7 L516.0,125.8 L518.9,126.8 L521.8,127.7 L524.6,128.4 L527.5,129.1 L530.3,129.7 L533.2,130.1 L536.0,130.4 L538.9,130.6 L541.7,130.7 L544.6,130.6 L547.4,130.3 L550.3,130.0 L553.1,129.5 L556.0,128.9 L558.8,128.2 L561.7,127.4 L564.5,126.5 L567.4,125.5 L570.2,124.5 L573.1,123.4 L575.9,122.2 L578.8,121.0 L581.6,119.8 L584.5,118.5 L587.4,117.3 L590.2,116.0 L593.1,114.7 L595.9,113.4 L598.8,112.1 L601.6,110.9 L604.5,109.7 L607.3,108.5 L610.2,107.4 L613.0,106.2 L615.9,105.1 L618.7,104.0 L621.6,102.9 L624.4,101.9 L627.3,100.8 L630.1,99.8 L633.0,98.8 L635.8,97.8 L638.7,96.8 L641.5,95.8 L644.4,94.9 L647.2,93.9 L650.1,92.9 L653.0,92.0 L655.8,91.0" stroke="#f6b088"/>
<path d="M436.5,76.6 L439.4,77.1 L442.2,77.5 L445.1,78.0 L447.9,78.5 L450.8,79.0 L453.6,79.4 L456.5,79.9 L459.3,80.3 L462.2,80.8 L465.0,81.2 L467.9,81.7 L470.7,82.1 L473.6,82.5 L476.4,82.9 L479.3,83.4 L482.2,83.8 L485.0,84.1 L487.9,84.5 L490.7,84.9 L493.6,85.2 L496.4,85.6 L499.3,85.9 L502.1,86.2 L505.0,86.5 L507.8,86.8 L510.7,87.0 L513.5,87.2 L516.4,87.5 L519.2,87.7 L522.1,87.8 L524.9,88.0 L527.8,88.1 L530.6,88.2 L533.5,88.3 L536.3,88.3 L539.2,88.4 L542.0,88.4 L544.9,88.3 L547.8,88.3 L550.6,88.2 L553.5,88.0 L556.3,87.9 L559.2,87.7 L562.0,87.5 L564.9,87.2 L567.7,87.0 L570.6,86.7 L573.4,86.4 L576.3,86.1 L579.1,85.8 L582.0,85.5 L584.8,85.2 L587.7,84.8 L590.5,84.5 L593.4,84.2 L596.2,83.8 L599.1,83.5 L601.9,83.1 L604.8,82.8 L607.6,82.5 L610.5,82.2 L613.4,81.9 L616.2,81.6 L619.1,81.3 L621.9,81.0 L624.8,80.7 L627.6,80.5 L630.5,80.2 L633.3,80.0 L636.2,79.7 L639.0,79.5 L641.9,79.2 L644.7,79.0 L647.6,78.7 L650.4,78.5 L653.3,78.3 L656.1,78.0 L659.0,77.8 L661.8,77.6" stroke="#f0903a"/>
</g>
<line x1="387.5" y1="76.4" x2="669.2" y2="76.4" stroke="#484848" stroke-width="1.1"/>
<g fill="#ff0000">
<path d="M394.27,72.70 L394.95,74.22 L396.60,74.39 L395.36,75.51 L395.71,77.13 L394.27,76.30 L392.83,77.13 L393.18,75.51 L391.94,74.39 L393.60,74.22Z"/>
<path d="M400.31,74.14 L400.98,75.66 L402.64,75.83 L401.40,76.95 L401.75,78.57 L400.31,77.74 L398.87,78.57 L399.21,76.95 L397.98,75.83 L399.63,75.66Z"/>
<path d="M406.34,75.10 L407.02,76.62 L408.67,76.79 L407.44,77.91 L407.78,79.53 L406.34,78.70 L404.90,79.53 L405.25,77.91 L404.01,76.79 L405.67,76.62Z"/>
<path d="M412.38,74.72 L413.05,76.24 L414.71,76.41 L413.47,77.52 L413.82,79.15 L412.38,78.32 L410.94,79.15 L411.28,77.52 L410.05,76.41 L411.70,76.24Z"/>
<path d="M418.41,74.91 L419.09,76.43 L420.74,76.60 L419.51,77.72 L419.85,79.34 L418.41,78.51 L416.97,79.34 L417.32,77.72 L416.08,76.60 L417.74,76.43Z"/>
<path d="M424.45,72.89 L425.12,74.41 L426.78,74.59 L425.54,75.70 L425.89,77.33 L424.45,76.49 L423.01,77.33 L423.35,75.70 L422.12,74.59 L423.77,74.41Z"/>
<path d="M430.48,74.24 L431.16,75.76 L432.81,75.93 L431.58,77.04 L431.92,78.67 L430.48,77.84 L429.04,78.67 L429.39,77.04 L428.15,75.93 L429.81,75.76Z"/>
<path d="M436.52,74.14 L437.19,75.66 L438.85,75.83 L437.61,76.95 L437.96,78.57 L436.52,77.74 L435.08,78.57 L435.43,76.95 L434.19,75.83 L435.84,75.66Z"/>
<path d="M450.60,69.25 L451.28,70.77 L452.93,70.94 L451.69,72.05 L452.04,73.68 L450.60,72.85 L449.16,73.68 L449.51,72.05 L448.27,70.94 L449.93,70.77Z"/>
<path d="M456.64,72.22 L457.31,73.74 L458.97,73.91 L457.73,75.03 L458.08,76.65 L456.64,75.82 L455.20,76.65 L455.54,75.03 L454.31,73.91 L455.96,73.74Z"/>
<path d="M462.67,70.69 L463.35,72.21 L465.00,72.38 L463.77,73.49 L464.11,75.12 L462.67,74.29 L461.23,75.12 L461.58,73.49 L460.34,72.38 L462.00,72.21Z"/>
<path d="M468.71,83.55 L469.38,85.07 L471.04,85.24 L469.80,86.36 L470.15,87.98 L468.71,87.15 L467.27,87.98 L467.61,86.36 L466.38,85.24 L468.03,85.07Z"/>
<path d="M474.74,65.50 L475.42,67.02 L477.07,67.19 L475.84,68.31 L476.18,69.93 L474.74,69.10 L473.30,69.93 L473.65,68.31 L472.41,67.19 L474.07,67.02Z"/>
<path d="M480.78,36.89 L481.45,38.41 L483.11,38.59 L481.87,39.70 L482.22,41.33 L480.78,40.49 L479.34,41.33 L479.68,39.70 L478.45,38.59 L480.10,38.41Z"/>
<path d="M486.81,109.37 L487.49,110.89 L489.14,111.07 L487.91,112.18 L488.25,113.81 L486.81,112.97 L485.37,113.81 L485.72,112.18 L484.48,111.07 L486.14,110.89Z"/>
<path d="M492.85,82.69 L493.52,84.21 L495.18,84.38 L493.94,85.49 L494.29,87.12 L492.85,86.29 L491.41,87.12 L491.76,85.49 L490.52,84.38 L492.17,84.21Z"/>
<path d="M506.93,69.15 L507.61,70.67 L509.26,70.84 L508.02,71.96 L508.37,73.58 L506.93,72.75 L505.49,73.58 L505.84,71.96 L504.60,70.84 L506.26,70.67Z"/>
<path d="M512.97,69.92 L513.64,71.44 L515.30,71.61 L514.06,72.72 L514.41,74.35 L512.97,73.52 L511.53,74.35 L511.87,72.72 L510.64,71.61 L512.29,71.44Z"/>
<path d="M519.00,68.77 L519.68,70.29 L521.33,70.46 L520.10,71.57 L520.44,73.20 L519.00,72.37 L517.56,73.20 L517.91,71.57 L516.67,70.46 L518.33,70.29Z"/>
<path d="M525.04,86.81 L525.71,88.33 L527.37,88.51 L526.13,89.62 L526.48,91.25 L525.04,90.41 L523.60,91.25 L523.94,89.62 L522.71,88.51 L524.36,88.33Z"/>
<path d="M531.07,51.97 L531.75,53.49 L533.40,53.66 L532.17,54.77 L532.51,56.40 L531.07,55.57 L529.63,56.40 L529.98,54.77 L528.74,53.66 L530.40,53.49Z"/>
<path d="M537.11,29.02 L537.78,30.54 L539.44,30.71 L538.20,31.83 L538.55,33.45 L537.11,32.62 L535.67,33.45 L536.01,31.83 L534.78,30.71 L536.43,30.54Z"/>
<path d="M543.14,128.19 L543.82,129.71 L545.47,129.88 L544.24,131.00 L544.58,132.62 L543.14,131.79 L541.70,132.62 L542.05,131.00 L540.81,129.88 L542.47,129.71Z"/>
<path d="M549.18,85.76 L549.85,87.28 L551.51,87.45 L550.27,88.56 L550.62,90.19 L549.18,89.36 L547.74,90.19 L548.09,88.56 L546.85,87.45 L548.50,87.28Z"/>
<path d="M563.26,68.09 L563.94,69.61 L565.59,69.79 L564.35,70.90 L564.70,72.53 L563.26,71.69 L561.82,72.53 L562.17,70.90 L560.93,69.79 L562.59,69.61Z"/>
<path d="M569.30,73.28 L569.97,74.80 L571.63,74.97 L570.39,76.08 L570.74,77.71 L569.30,76.88 L567.86,77.71 L568.20,76.08 L566.97,74.97 L568.62,74.80Z"/>
<path d="M575.33,71.07 L576.01,72.59 L577.66,72.76 L576.43,73.88 L576.77,75.50 L575.33,74.67 L573.89,75.50 L574.24,73.88 L573.00,72.76 L574.66,72.59Z"/>
<path d="M581.37,82.11 L582.04,83.63 L583.70,83.80 L582.46,84.92 L582.81,86.54 L581.37,85.71 L579.93,86.54 L580.27,84.92 L579.04,83.80 L580.69,83.63Z"/>
<path d="M587.40,48.61 L588.08,50.13 L589.73,50.30 L588.50,51.41 L588.84,53.04 L587.40,52.21 L585.96,53.04 L586.31,51.41 L585.07,50.30 L586.73,50.13Z"/>
<path d="M593.44,56.29 L594.11,57.81 L595.77,57.98 L594.53,59.09 L594.88,60.72 L593.44,59.89 L592.00,60.72 L592.34,59.09 L591.11,57.98 L592.76,57.81Z"/>
<path d="M599.47,109.37 L600.15,110.89 L601.80,111.07 L600.57,112.18 L600.91,113.81 L599.47,112.97 L598.03,113.81 L598.38,112.18 L597.14,111.07 L598.80,110.89Z"/>
<path d="M605.51,80.29 L606.18,81.81 L607.84,81.98 L606.60,83.09 L606.95,84.72 L605.51,83.89 L604.07,84.72 L604.42,83.09 L603.18,81.98 L604.83,81.81Z"/>
<path d="M619.59,67.33 L620.27,68.85 L621.92,69.02 L620.68,70.13 L621.03,71.76 L619.59,70.93 L618.15,71.76 L618.50,70.13 L617.26,69.02 L618.92,68.85Z"/>
<path d="M625.63,75.87 L626.30,77.39 L627.96,77.56 L626.72,78.68 L627.07,80.30 L625.63,79.47 L624.19,80.30 L624.53,78.68 L623.30,77.56 L624.95,77.39Z"/>
<path d="M631.66,74.72 L632.34,76.24 L633.99,76.41 L632.76,77.52 L633.10,79.15 L631.66,78.32 L630.22,79.15 L630.57,77.52 L629.33,76.41 L630.99,76.24Z"/>
<path d="M637.70,76.93 L638.37,78.45 L640.03,78.62 L638.79,79.73 L639.14,81.36 L637.70,80.53 L636.26,81.36 L636.60,79.73 L635.37,78.62 L637.02,78.45Z"/>
<path d="M643.73,50.33 L644.41,51.85 L646.06,52.03 L644.83,53.14 L645.17,54.77 L643.73,53.93 L642.29,54.77 L642.64,53.14 L641.40,52.03 L643.06,51.85Z"/>
<path d="M649.77,80.96 L650.44,82.48 L652.10,82.65 L650.86,83.76 L651.21,85.39 L649.77,84.56 L648.33,85.39 L648.67,83.76 L647.44,82.65 L649.09,82.48Z"/>
<path d="M655.80,88.54 L656.48,90.06 L658.13,90.23 L656.90,91.35 L657.24,92.97 L655.80,92.14 L654.36,92.97 L654.71,91.35 L653.47,90.23 L655.13,90.06Z"/>
<path d="M661.84,75.10 L662.51,76.62 L664.17,76.79 L662.93,77.91 L663.28,79.53 L661.84,78.70 L660.40,79.53 L660.75,77.91 L659.51,76.79 L661.16,76.62Z"/>
</g>
<rect x="387.5" y="14.5" width="281.7" height="124.1" fill="none" stroke="#6e6e6e" stroke-width="1.0"/>
<g stroke="#6e6e6e" stroke-width="0.9"><line x1="387.5" y1="136.4" x2="389.3" y2="136.4"/><line x1="387.5" y1="124.4" x2="390" y2="124.4"/><line x1="387.5" y1="112.4" x2="389.3" y2="112.4"/><line x1="387.5" y1="100.4" x2="390" y2="100.4"/><line x1="387.5" y1="88.4" x2="389.3" y2="88.4"/><line x1="387.5" y1="76.4" x2="390" y2="76.4"/><line x1="387.5" y1="64.4" x2="389.3" y2="64.4"/><line x1="387.5" y1="52.4" x2="390" y2="52.4"/><line x1="387.5" y1="40.4" x2="389.3" y2="40.4"/><line x1="387.5" y1="28.4" x2="390" y2="28.4"/><line x1="387.5" y1="16.4" x2="389.3" y2="16.4"/></g>
<text x="384.4" y="31.9" text-anchor="end" font-size="10.0">50</text>
<text x="384.4" y="55.9" text-anchor="end" font-size="10.0">25</text>
<text x="384.4" y="79.9" text-anchor="end" font-size="10.0">0</text>
<text x="384.4" y="103.9" text-anchor="end" font-size="10.0">−25</text>
<text x="384.4" y="127.9" text-anchor="end" font-size="10.0">−50</text>
<rect x="387.5" y="138.6" width="281.7" height="14" fill="#e6dff0" stroke="#5a5a5a" stroke-width="1"/>
<line x1="443.56" y1="138.6" x2="443.56" y2="152.6" stroke="#5a5a5a" stroke-width="1"/>
<line x1="499.89" y1="138.6" x2="499.89" y2="152.6" stroke="#5a5a5a" stroke-width="1"/>
<line x1="556.22" y1="138.6" x2="556.22" y2="152.6" stroke="#5a5a5a" stroke-width="1"/>
<line x1="612.55" y1="138.6" x2="612.55" y2="152.6" stroke="#5a5a5a" stroke-width="1"/>
<text x="415.4" y="149" text-anchor="middle" font-size="9.8">2020</text>
<text x="471.73" y="149" text-anchor="middle" font-size="9.8">2030</text>
<text x="528.06" y="149" text-anchor="middle" font-size="9.8">2040</text>
<text x="584.38" y="149" text-anchor="middle" font-size="9.8">2050</text>
<text x="640.72" y="149" text-anchor="middle" font-size="9.8">2060</text>
<text transform="translate(367.3,76.4) rotate(-90)" text-anchor="middle" font-size="11.8" textLength="139.5" lengthAdjust="spacing">Carbon emission flows (MT)</text>
<text x="344.8" y="11.5" font-size="16.0" font-weight="bold">b</text>
<clipPath id="clipc"><rect x="47.5" y="175.5" width="282" height="122.9"/></clipPath>
<g>
<rect x="52" y="229.73" width="6.03" height="1.47" fill="#fde3c8" stroke="#6a6a6a" stroke-width="0.75"/>
<rect x="58.03" y="231.2" width="6.03" height="0.23" fill="#fbb3b3" stroke="#6a6a6a" stroke-width="0.75"/>
<rect x="64.06" y="231.2" width="6.03" height="1.35" fill="#fef2b2" stroke="#6a6a6a" stroke-width="0.75"/>
<rect x="70.09" y="231.2" width="6.03" height="0.9" fill="#d3ecd3" stroke="#6a6a6a" stroke-width="0.75"/>
<rect x="76.11" y="231.2" width="6.03" height="1.13" fill="#fdc1e1" stroke="#6a6a6a" stroke-width="0.75"/>
<rect x="82.14" y="229.96" width="6.03" height="1.24" fill="#d9cce5" stroke="#6a6a6a" stroke-width="0.75"/>
<rect x="88.17" y="231.2" width="6.03" height="0.34" fill="#d5eef2" stroke="#6a6a6a" stroke-width="0.75"/>
<rect x="94.2" y="231.2" width="6.03" height="0.23" fill="#8ffafa" stroke="#6a6a6a" stroke-width="0.75"/>
<rect x="108.27" y="228.61" width="6.03" height="2.59" fill="#fde3c8" stroke="#6a6a6a" stroke-width="0.75"/>
<rect x="114.3" y="226.91" width="6.03" height="4.29" fill="#fbb3b3" stroke="#6a6a6a" stroke-width="0.75"/>
<rect x="120.33" y="226.24" width="6.03" height="4.96" fill="#fef2b2" stroke="#6a6a6a" stroke-width="0.75"/>
<rect x="126.36" y="231.2" width="6.03" height="11.84" fill="#d3ecd3" stroke="#6a6a6a" stroke-width="0.75"/>
<rect x="132.38" y="218.23" width="6.03" height="12.97" fill="#fdc1e1" stroke="#6a6a6a" stroke-width="0.75"/>
<rect x="138.41" y="186.76" width="6.03" height="44.44" fill="#d9cce5" stroke="#6a6a6a" stroke-width="0.75"/>
<rect x="144.44" y="231.2" width="6.03" height="46.02" fill="#d5eef2" stroke="#6a6a6a" stroke-width="0.75"/>
<rect x="150.47" y="231.2" width="6.03" height="11.05" fill="#8ffafa" stroke="#6a6a6a" stroke-width="0.75"/>
<rect x="164.54" y="225.67" width="6.03" height="5.53" fill="#fde3c8" stroke="#6a6a6a" stroke-width="0.75"/>
<rect x="170.57" y="226.91" width="6.03" height="4.29" fill="#fbb3b3" stroke="#6a6a6a" stroke-width="0.75"/>
<rect x="176.6" y="225.33" width="6.03" height="5.87" fill="#fef2b2" stroke="#6a6a6a" stroke-width="0.75"/>
<rect x="182.63" y="231.2" width="6.03" height="14.1" fill="#d3ecd3" stroke="#6a6a6a" stroke-width="0.75"/>
<rect x="188.66" y="206.38" width="6.03" height="24.82" fill="#fdc1e1" stroke="#6a6a6a" stroke-width="0.75"/>
<rect x="194.68" y="184.39" width="6.03" height="46.81" fill="#d9cce5" stroke="#6a6a6a" stroke-width="0.75"/>
<rect x="200.71" y="231.2" width="6.03" height="58.66" fill="#d5eef2" stroke="#6a6a6a" stroke-width="0.75"/>
<rect x="206.74" y="231.2" width="6.03" height="12.75" fill="#8ffafa" stroke="#6a6a6a" stroke-width="0.75"/>
<rect x="220.81" y="224.54" width="6.03" height="6.66" fill="#fde3c8" stroke="#6a6a6a" stroke-width="0.75"/>
<rect x="226.84" y="230.75" width="6.03" height="0.45" fill="#fbb3b3" stroke="#6a6a6a" stroke-width="0.75"/>
<rect x="232.87" y="229.28" width="6.03" height="1.92" fill="#fef2b2" stroke="#6a6a6a" stroke-width="0.75"/>
<rect x="238.9" y="231.2" width="6.03" height="9.25" fill="#d3ecd3" stroke="#6a6a6a" stroke-width="0.75"/>
<rect x="244.92" y="202.77" width="6.03" height="28.43" fill="#fdc1e1" stroke="#6a6a6a" stroke-width="0.75"/>
<rect x="250.95" y="214.73" width="6.03" height="16.47" fill="#d9cce5" stroke="#6a6a6a" stroke-width="0.75"/>
<rect x="256.98" y="231.2" width="6.03" height="38.24" fill="#d5eef2" stroke="#6a6a6a" stroke-width="0.75"/>
<rect x="263.01" y="231.2" width="6.03" height="6.77" fill="#8ffafa" stroke="#6a6a6a" stroke-width="0.75"/>
<rect x="277.08" y="224.09" width="6.03" height="7.11" fill="#fde3c8" stroke="#6a6a6a" stroke-width="0.75"/>
<rect x="283.11" y="231.2" width="6.03" height="1.58" fill="#fbb3b3" stroke="#6a6a6a" stroke-width="0.75"/>
<rect x="289.14" y="231.2" width="6.03" height="0.45" fill="#fef2b2" stroke="#6a6a6a" stroke-width="0.75"/>
<rect x="295.17" y="231.2" width="6.03" height="3.5" fill="#d3ecd3" stroke="#6a6a6a" stroke-width="0.75"/>
<rect x="301.2" y="204.47" width="6.03" height="26.73" fill="#fdc1e1" stroke="#6a6a6a" stroke-width="0.75"/>
<rect x="307.22" y="231.2" width="6.03" height="8.23" fill="#d9cce5" stroke="#6a6a6a" stroke-width="0.75"/>
<rect x="313.25" y="231.2" width="6.03" height="16.47" fill="#d5eef2" stroke="#6a6a6a" stroke-width="0.75"/>
<rect x="319.28" y="231.2" width="6.03" height="1.24" fill="#8ffafa" stroke="#6a6a6a" stroke-width="0.75"/>
</g>
<g clip-path="url(#clipc)" fill="none" stroke-width="0.45" stroke-dasharray="2.4 1.1">
<path d="M55.0,229.7 L57.9,229.7 L60.7,229.7 L63.6,229.7 L66.4,229.6 L69.3,229.6 L72.1,229.6 L75.0,229.5 L77.8,229.5 L80.7,229.4 L83.5,229.4 L86.4,229.3 L89.2,229.3 L92.1,229.2 L94.9,229.1 L97.8,229.1 L100.6,229.0 L103.4,228.9 L106.3,228.8 L109.1,228.7 L112.0,228.6 L114.8,228.5 L117.7,228.3 L120.5,228.2 L123.4,228.0 L126.2,227.9 L129.1,227.7 L131.9,227.6 L134.8,227.4 L137.6,227.2 L140.5,227.1 L143.3,226.9 L146.2,226.8 L149.0,226.6 L151.9,226.4 L154.7,226.3 L157.6,226.1 L160.4,226.0 L163.3,225.9 L166.1,225.7 L169.0,225.6 L171.8,225.5 L174.7,225.4 L177.5,225.3 L180.4,225.2 L183.2,225.1 L186.1,225.1 L188.9,225.0 L191.8,225.0 L194.6,224.9 L197.5,224.8 L200.3,224.8 L203.2,224.8 L206.0,224.7 L208.9,224.7 L211.7,224.7 L214.6,224.6 L217.4,224.6 L220.3,224.6 L223.1,224.6 L226.0,224.5 L228.8,224.5 L231.7,224.5 L234.5,224.5 L237.4,224.4 L240.2,224.4 L243.1,224.4 L245.9,224.4 L248.8,224.3 L251.6,224.3 L254.5,224.3 L257.3,224.3 L260.1,224.2 L263.0,224.2 L265.8,224.2 L268.7,224.2 L271.5,224.2 L274.4,224.1 L277.2,224.1 L280.1,224.1" stroke="#9dd2f2"/>
<path d="M61.0,231.4 L63.9,231.2 L66.7,230.9 L69.6,230.6 L72.4,230.3 L75.3,230.1 L78.1,229.8 L81.0,229.5 L83.8,229.3 L86.7,229.0 L89.5,228.8 L92.4,228.6 L95.2,228.3 L98.1,228.1 L100.9,227.9 L103.8,227.7 L106.6,227.5 L109.5,227.3 L112.3,227.2 L115.2,227.0 L118.0,226.9 L120.9,226.8 L123.7,226.6 L126.6,226.5 L129.4,226.5 L132.3,226.4 L135.1,226.3 L138.0,226.3 L140.8,226.3 L143.7,226.2 L146.5,226.2 L149.4,226.2 L152.2,226.3 L155.1,226.3 L157.9,226.4 L160.8,226.4 L163.6,226.5 L166.5,226.6 L169.3,226.7 L172.2,226.8 L175.0,227.0 L177.9,227.1 L180.7,227.3 L183.6,227.5 L186.4,227.7 L189.3,227.8 L192.1,228.0 L195.0,228.2 L197.8,228.5 L200.6,228.7 L203.5,228.9 L206.3,229.1 L209.2,229.3 L212.0,229.5 L214.9,229.7 L217.7,229.9 L220.6,230.1 L223.4,230.3 L226.3,230.5 L229.1,230.7 L232.0,230.9 L234.8,231.0 L237.7,231.2 L240.5,231.3 L243.4,231.5 L246.2,231.6 L249.1,231.7 L251.9,231.8 L254.8,231.9 L257.6,232.0 L260.5,232.1 L263.3,232.2 L266.2,232.3 L269.0,232.3 L271.9,232.4 L274.7,232.5 L277.6,232.6 L280.4,232.6 L283.3,232.7 L286.1,232.8" stroke="#3a98d8"/>
<path d="M67.1,232.6 L69.9,232.2 L72.8,231.8 L75.6,231.4 L78.5,231.1 L81.3,230.7 L84.2,230.3 L87.0,230.0 L89.9,229.6 L92.7,229.3 L95.6,229.0 L98.4,228.6 L101.3,228.3 L104.1,228.0 L107.0,227.7 L109.8,227.4 L112.7,227.1 L115.5,226.9 L118.4,226.6 L121.2,226.4 L124.1,226.2 L126.9,226.0 L129.8,225.8 L132.6,225.6 L135.5,225.5 L138.3,225.4 L141.1,225.2 L144.0,225.1 L146.8,225.1 L149.7,225.0 L152.5,224.9 L155.4,224.9 L158.2,224.9 L161.1,224.9 L163.9,224.9 L166.8,225.0 L169.6,225.0 L172.5,225.1 L175.3,225.2 L178.2,225.3 L181.0,225.4 L183.9,225.5 L186.7,225.7 L189.6,225.9 L192.4,226.0 L195.3,226.2 L198.1,226.4 L201.0,226.6 L203.8,226.8 L206.7,227.1 L209.5,227.3 L212.4,227.5 L215.2,227.7 L218.1,228.0 L220.9,228.2 L223.8,228.4 L226.6,228.6 L229.5,228.8 L232.3,229.0 L235.2,229.2 L238.0,229.4 L240.9,229.6 L243.7,229.8 L246.6,229.9 L249.4,230.1 L252.3,230.2 L255.1,230.3 L258.0,230.5 L260.8,230.6 L263.7,230.7 L266.5,230.8 L269.4,230.9 L272.2,231.0 L275.1,231.1 L277.9,231.2 L280.8,231.3 L283.6,231.4 L286.5,231.5 L289.3,231.6 L292.2,231.7" stroke="#f2a6c8"/>
<path d="M73.1,232.1 L75.9,232.7 L78.8,233.4 L81.6,234.0 L84.5,234.7 L87.3,235.3 L90.2,235.9 L93.0,236.5 L95.9,237.2 L98.7,237.8 L101.6,238.3 L104.4,238.9 L107.3,239.5 L110.1,240.0 L113.0,240.5 L115.8,241.0 L118.7,241.5 L121.5,241.9 L124.4,242.4 L127.2,242.8 L130.1,243.1 L132.9,243.5 L135.8,243.8 L138.6,244.1 L141.5,244.4 L144.3,244.6 L147.2,244.8 L150.0,245.0 L152.9,245.2 L155.7,245.3 L158.6,245.4 L161.4,245.5 L164.3,245.6 L167.1,245.6 L170.0,245.6 L172.8,245.6 L175.7,245.6 L178.5,245.5 L181.4,245.4 L184.2,245.4 L187.1,245.2 L189.9,245.1 L192.8,245.0 L195.6,244.8 L198.5,244.6 L201.3,244.4 L204.2,244.2 L207.0,243.9 L209.9,243.7 L212.7,243.4 L215.6,243.2 L218.4,242.9 L221.3,242.6 L224.1,242.3 L227.0,242.0 L229.8,241.7 L232.7,241.4 L235.5,241.1 L238.3,240.8 L241.2,240.5 L244.0,240.2 L246.9,239.9 L249.7,239.6 L252.6,239.3 L255.4,239.0 L258.3,238.7 L261.1,238.4 L264.0,238.1 L266.8,237.9 L269.7,237.6 L272.5,237.3 L275.4,237.0 L278.2,236.7 L281.1,236.4 L283.9,236.1 L286.8,235.8 L289.6,235.6 L292.5,235.3 L295.3,235.0 L298.2,234.7" stroke="#e0506a"/>
<path d="M79.1,232.3 L82.0,231.6 L84.8,230.9 L87.7,230.2 L90.5,229.5 L93.4,228.7 L96.2,228.0 L99.1,227.3 L101.9,226.6 L104.8,225.9 L107.6,225.1 L110.5,224.4 L113.3,223.7 L116.2,223.0 L119.0,222.3 L121.9,221.6 L124.7,220.9 L127.6,220.2 L130.4,219.5 L133.3,218.8 L136.1,218.1 L139.0,217.4 L141.8,216.7 L144.7,216.0 L147.5,215.3 L150.4,214.6 L153.2,213.9 L156.1,213.3 L158.9,212.6 L161.8,212.0 L164.6,211.4 L167.5,210.7 L170.3,210.2 L173.2,209.6 L176.0,209.0 L178.8,208.5 L181.7,208.0 L184.5,207.5 L187.4,207.0 L190.2,206.6 L193.1,206.2 L195.9,205.8 L198.8,205.4 L201.6,205.1 L204.5,204.8 L207.3,204.5 L210.2,204.3 L213.0,204.0 L215.9,203.8 L218.7,203.6 L221.6,203.5 L224.4,203.3 L227.3,203.2 L230.1,203.1 L233.0,203.0 L235.8,202.9 L238.7,202.9 L241.5,202.8 L244.4,202.8 L247.2,202.8 L250.1,202.8 L252.9,202.8 L255.8,202.8 L258.6,202.9 L261.5,202.9 L264.3,203.0 L267.2,203.0 L270.0,203.1 L272.9,203.2 L275.7,203.3 L278.6,203.4 L281.4,203.5 L284.3,203.6 L287.1,203.7 L290.0,203.8 L292.8,204.0 L295.7,204.1 L298.5,204.2 L301.4,204.3 L304.2,204.5" stroke="#b0d890"/>
<path d="M85.2,230.0 L88.0,227.3 L90.9,224.7 L93.7,222.1 L96.6,219.6 L99.4,217.0 L102.3,214.5 L105.1,212.0 L108.0,209.6 L110.8,207.2 L113.6,204.9 L116.5,202.6 L119.3,200.5 L122.2,198.4 L125.0,196.3 L127.9,194.4 L130.7,192.6 L133.6,190.9 L136.4,189.3 L139.3,187.8 L142.1,186.4 L145.0,185.2 L147.8,184.1 L150.7,183.1 L153.5,182.3 L156.4,181.6 L159.2,181.0 L162.1,180.5 L164.9,180.1 L167.8,179.9 L170.6,179.8 L173.5,179.8 L176.3,179.9 L179.2,180.2 L182.0,180.5 L184.9,181.0 L187.7,181.5 L190.6,182.2 L193.4,183.0 L196.3,183.9 L199.1,184.9 L202.0,186.0 L204.8,187.2 L207.7,188.5 L210.5,189.8 L213.4,191.3 L216.2,192.8 L219.1,194.3 L221.9,195.9 L224.8,197.5 L227.6,199.2 L230.5,200.9 L233.3,202.6 L236.2,204.3 L239.0,206.0 L241.9,207.7 L244.7,209.4 L247.6,211.1 L250.4,212.7 L253.3,214.3 L256.1,215.9 L259.0,217.4 L261.8,218.9 L264.7,220.3 L267.5,221.7 L270.4,223.0 L273.2,224.3 L276.0,225.6 L278.9,226.9 L281.7,228.1 L284.6,229.3 L287.4,230.5 L290.3,231.6 L293.1,232.8 L296.0,233.9 L298.8,235.0 L301.7,236.1 L304.5,237.2 L307.4,238.3 L310.2,239.4" stroke="#3aa84a"/>
<path d="M91.2,231.5 L94.0,234.2 L96.9,236.8 L99.7,239.4 L102.6,242.1 L105.4,244.6 L108.3,247.2 L111.1,249.7 L114.0,252.2 L116.8,254.7 L119.7,257.1 L122.5,259.5 L125.4,261.8 L128.2,264.0 L131.1,266.2 L133.9,268.3 L136.8,270.4 L139.6,272.3 L142.5,274.2 L145.3,276.0 L148.2,277.6 L151.0,279.2 L153.9,280.7 L156.7,282.1 L159.6,283.3 L162.4,284.5 L165.3,285.6 L168.1,286.6 L171.0,287.4 L173.8,288.2 L176.7,288.8 L179.5,289.4 L182.4,289.8 L185.2,290.2 L188.1,290.4 L190.9,290.6 L193.8,290.6 L196.6,290.5 L199.5,290.3 L202.3,290.0 L205.2,289.6 L208.0,289.1 L210.9,288.5 L213.7,287.9 L216.5,287.1 L219.4,286.2 L222.2,285.3 L225.1,284.3 L227.9,283.3 L230.8,282.2 L233.6,281.0 L236.5,279.8 L239.3,278.6 L242.2,277.4 L245.0,276.1 L247.9,274.8 L250.7,273.6 L253.6,272.3 L256.4,271.0 L259.3,269.8 L262.1,268.5 L265.0,267.3 L267.8,266.1 L270.7,264.9 L273.5,263.8 L276.4,262.6 L279.2,261.5 L282.1,260.4 L284.9,259.3 L287.8,258.2 L290.6,257.1 L293.5,256.0 L296.3,254.9 L299.2,253.9 L302.0,252.8 L304.9,251.8 L307.7,250.8 L310.6,249.7 L313.4,248.7 L316.3,247.7" stroke="#f6b088"/>
<path d="M97.2,231.4 L100.1,232.1 L102.9,232.7 L105.8,233.4 L108.6,234.0 L111.5,234.6 L114.3,235.2 L117.2,235.8 L120.0,236.5 L122.9,237.0 L125.7,237.6 L128.6,238.2 L131.4,238.7 L134.3,239.3 L137.1,239.8 L140.0,240.3 L142.8,240.7 L145.7,241.2 L148.5,241.6 L151.3,242.0 L154.2,242.3 L157.0,242.7 L159.9,243.0 L162.7,243.3 L165.6,243.5 L168.4,243.7 L171.3,243.9 L174.1,244.1 L177.0,244.2 L179.8,244.3 L182.7,244.4 L185.5,244.5 L188.4,244.5 L191.2,244.5 L194.1,244.5 L196.9,244.5 L199.8,244.4 L202.6,244.3 L205.5,244.2 L208.3,244.0 L211.2,243.9 L214.0,243.7 L216.9,243.5 L219.7,243.2 L222.6,243.0 L225.4,242.7 L228.3,242.4 L231.1,242.1 L234.0,241.8 L236.8,241.5 L239.7,241.1 L242.5,240.8 L245.4,240.5 L248.2,240.1 L251.1,239.8 L253.9,239.4 L256.8,239.1 L259.6,238.7 L262.5,238.4 L265.3,238.1 L268.2,237.7 L271.0,237.4 L273.9,237.1 L276.7,236.8 L279.6,236.5 L282.4,236.2 L285.3,235.9 L288.1,235.6 L291.0,235.3 L293.8,235.0 L296.7,234.8 L299.5,234.5 L302.4,234.2 L305.2,234.0 L308.1,233.7 L310.9,233.5 L313.7,233.2 L316.6,232.9 L319.4,232.7 L322.3,232.4" stroke="#f0903a"/>
</g>
<line x1="47.5" y1="231.2" x2="329.5" y2="231.2" stroke="#484848" stroke-width="1.1"/>
<g fill="#ff0000">
<path d="M55.01,227.28 L55.69,228.80 L57.34,228.98 L56.11,230.09 L56.45,231.72 L55.01,230.88 L53.57,231.72 L53.92,230.09 L52.68,228.98 L54.34,228.80Z"/>
<path d="M61.04,228.98 L61.72,230.50 L63.37,230.67 L62.14,231.78 L62.48,233.41 L61.04,232.58 L59.60,233.41 L59.95,231.78 L58.71,230.67 L60.37,230.50Z"/>
<path d="M67.07,230.10 L67.75,231.62 L69.40,231.80 L68.17,232.91 L68.51,234.54 L67.07,233.70 L65.63,234.54 L65.98,232.91 L64.74,231.80 L66.40,231.62Z"/>
<path d="M73.10,229.65 L73.78,231.17 L75.43,231.35 L74.19,232.46 L74.54,234.08 L73.10,233.25 L71.66,234.08 L72.01,232.46 L70.77,231.35 L72.42,231.17Z"/>
<path d="M79.13,229.88 L79.81,231.40 L81.46,231.57 L80.22,232.68 L80.57,234.31 L79.13,233.48 L77.69,234.31 L78.04,232.68 L76.80,231.57 L78.45,231.40Z"/>
<path d="M85.16,227.51 L85.83,229.03 L87.49,229.20 L86.25,230.31 L86.60,231.94 L85.16,231.11 L83.72,231.94 L84.06,230.31 L82.83,229.20 L84.48,229.03Z"/>
<path d="M91.19,229.09 L91.86,230.61 L93.52,230.78 L92.28,231.89 L92.63,233.52 L91.19,232.69 L89.75,233.52 L90.09,231.89 L88.86,230.78 L90.51,230.61Z"/>
<path d="M97.22,228.98 L97.89,230.50 L99.55,230.67 L98.31,231.78 L98.66,233.41 L97.22,232.58 L95.78,233.41 L96.12,231.78 L94.89,230.67 L96.54,230.50Z"/>
<path d="M111.28,226.16 L111.96,227.68 L113.61,227.85 L112.38,228.96 L112.72,230.59 L111.28,229.76 L109.84,230.59 L110.19,228.96 L108.95,227.85 L110.61,227.68Z"/>
<path d="M117.31,224.46 L117.99,225.98 L119.64,226.16 L118.41,227.27 L118.75,228.90 L117.31,228.06 L115.87,228.90 L116.22,227.27 L114.98,226.16 L116.64,225.98Z"/>
<path d="M123.34,223.79 L124.02,225.31 L125.67,225.48 L124.44,226.59 L124.78,228.22 L123.34,227.39 L121.90,228.22 L122.25,226.59 L121.01,225.48 L122.67,225.31Z"/>
<path d="M129.37,240.59 L130.05,242.11 L131.70,242.29 L130.46,243.40 L130.81,245.03 L129.37,244.19 L127.93,245.03 L128.28,243.40 L127.04,242.29 L128.69,242.11Z"/>
<path d="M135.40,215.78 L136.08,217.30 L137.73,217.47 L136.49,218.58 L136.84,220.21 L135.40,219.38 L133.96,220.21 L134.31,218.58 L133.07,217.47 L134.72,217.30Z"/>
<path d="M141.43,184.31 L142.10,185.83 L143.76,186.00 L142.52,187.11 L142.87,188.74 L141.43,187.91 L139.99,188.74 L140.33,187.11 L139.10,186.00 L140.75,185.83Z"/>
<path d="M147.46,274.77 L148.13,276.29 L149.79,276.47 L148.55,277.58 L148.90,279.20 L147.46,278.37 L146.02,279.20 L146.36,277.58 L145.13,276.47 L146.78,276.29Z"/>
<path d="M153.49,239.80 L154.16,241.32 L155.82,241.50 L154.58,242.61 L154.93,244.24 L153.49,243.40 L152.05,244.24 L152.39,242.61 L151.16,241.50 L152.81,241.32Z"/>
<path d="M167.55,223.22 L168.23,224.74 L169.88,224.92 L168.65,226.03 L168.99,227.65 L167.55,226.82 L166.11,227.65 L166.46,226.03 L165.22,224.92 L166.88,224.74Z"/>
<path d="M173.58,224.46 L174.26,225.98 L175.91,226.16 L174.68,227.27 L175.02,228.90 L173.58,228.06 L172.14,228.90 L172.49,227.27 L171.25,226.16 L172.91,225.98Z"/>
<path d="M179.61,222.88 L180.29,224.40 L181.94,224.58 L180.71,225.69 L181.05,227.32 L179.61,226.48 L178.17,227.32 L178.52,225.69 L177.28,224.58 L178.94,224.40Z"/>
<path d="M185.64,242.85 L186.32,244.37 L187.97,244.54 L186.73,245.66 L187.08,247.28 L185.64,246.45 L184.20,247.28 L184.55,245.66 L183.31,244.54 L184.96,244.37Z"/>
<path d="M191.67,203.93 L192.35,205.45 L194.00,205.63 L192.76,206.74 L193.11,208.37 L191.67,207.53 L190.23,208.37 L190.58,206.74 L189.34,205.63 L190.99,205.45Z"/>
<path d="M197.70,181.94 L198.37,183.46 L200.03,183.63 L198.79,184.74 L199.14,186.37 L197.70,185.54 L196.26,186.37 L196.60,184.74 L195.37,183.63 L197.02,183.46Z"/>
<path d="M203.73,287.41 L204.40,288.93 L206.06,289.10 L204.82,290.21 L205.17,291.84 L203.73,291.01 L202.29,291.84 L202.63,290.21 L201.40,289.10 L203.05,288.93Z"/>
<path d="M209.76,241.50 L210.43,243.02 L212.09,243.19 L210.85,244.30 L211.20,245.93 L209.76,245.10 L208.32,245.93 L208.66,244.30 L207.43,243.19 L209.08,243.02Z"/>
<path d="M223.82,222.09 L224.50,223.61 L226.15,223.79 L224.92,224.90 L225.26,226.53 L223.82,225.69 L222.38,226.53 L222.73,224.90 L221.49,223.79 L223.15,223.61Z"/>
<path d="M229.85,228.30 L230.53,229.82 L232.18,229.99 L230.95,231.10 L231.29,232.73 L229.85,231.90 L228.41,232.73 L228.76,231.10 L227.52,229.99 L229.18,229.82Z"/>
<path d="M235.88,226.83 L236.56,228.35 L238.21,228.53 L236.98,229.64 L237.32,231.26 L235.88,230.43 L234.44,231.26 L234.79,229.64 L233.55,228.53 L235.21,228.35Z"/>
<path d="M241.91,238.00 L242.59,239.52 L244.24,239.69 L243.00,240.80 L243.35,242.43 L241.91,241.60 L240.47,242.43 L240.82,240.80 L239.58,239.69 L241.23,239.52Z"/>
<path d="M247.94,200.32 L248.62,201.84 L250.27,202.02 L249.03,203.13 L249.38,204.76 L247.94,203.92 L246.50,204.76 L246.85,203.13 L245.61,202.02 L247.26,201.84Z"/>
<path d="M253.97,212.28 L254.64,213.80 L256.30,213.97 L255.06,215.09 L255.41,216.71 L253.97,215.88 L252.53,216.71 L252.87,215.09 L251.64,213.97 L253.29,213.80Z"/>
<path d="M260.00,266.99 L260.67,268.51 L262.33,268.68 L261.09,269.79 L261.44,271.42 L260.00,270.59 L258.56,271.42 L258.90,269.79 L257.67,268.68 L259.32,268.51Z"/>
<path d="M266.03,235.52 L266.70,237.04 L268.36,237.21 L267.12,238.32 L267.47,239.95 L266.03,239.12 L264.59,239.95 L264.93,238.32 L263.70,237.21 L265.35,237.04Z"/>
<path d="M280.09,221.64 L280.77,223.16 L282.42,223.34 L281.19,224.45 L281.53,226.08 L280.09,225.24 L278.65,226.08 L279.00,224.45 L277.76,223.34 L279.42,223.16Z"/>
<path d="M286.12,230.33 L286.80,231.85 L288.45,232.02 L287.22,233.13 L287.56,234.76 L286.12,233.93 L284.68,234.76 L285.03,233.13 L283.79,232.02 L285.45,231.85Z"/>
<path d="M292.15,229.20 L292.83,230.72 L294.48,230.89 L293.25,232.01 L293.59,233.63 L292.15,232.80 L290.71,233.63 L291.06,232.01 L289.82,230.89 L291.48,230.72Z"/>
<path d="M298.18,232.25 L298.86,233.77 L300.51,233.94 L299.27,235.05 L299.62,236.68 L298.18,235.85 L296.74,236.68 L297.09,235.05 L295.85,233.94 L297.50,233.77Z"/>
<path d="M304.21,202.02 L304.89,203.54 L306.54,203.71 L305.30,204.82 L305.65,206.45 L304.21,205.62 L302.77,206.45 L303.12,204.82 L301.88,203.71 L303.53,203.54Z"/>
<path d="M310.24,236.98 L310.91,238.50 L312.57,238.68 L311.33,239.79 L311.68,241.42 L310.24,240.58 L308.80,241.42 L309.14,239.79 L307.91,238.68 L309.56,238.50Z"/>
<path d="M316.27,245.22 L316.94,246.74 L318.60,246.91 L317.36,248.02 L317.71,249.65 L316.27,248.82 L314.83,249.65 L315.17,248.02 L313.94,246.91 L315.59,246.74Z"/>
<path d="M322.30,229.99 L322.97,231.51 L324.63,231.68 L323.39,232.80 L323.74,234.42 L322.30,233.59 L320.86,234.42 L321.20,232.80 L319.97,231.68 L321.62,231.51Z"/>
</g>
<rect x="47.5" y="175.5" width="282" height="122.9" fill="none" stroke="#6e6e6e" stroke-width="1.0"/>
<g stroke="#6e6e6e" stroke-width="0.9"><line x1="47.5" y1="287.6" x2="50" y2="287.6"/><line x1="47.5" y1="273.5" x2="49.3" y2="273.5"/><line x1="47.5" y1="259.4" x2="50" y2="259.4"/><line x1="47.5" y1="245.3" x2="49.3" y2="245.3"/><line x1="47.5" y1="231.2" x2="50" y2="231.2"/><line x1="47.5" y1="217.1" x2="49.3" y2="217.1"/><line x1="47.5" y1="203" x2="50" y2="203"/><line x1="47.5" y1="188.9" x2="49.3" y2="188.9"/></g>
<text x="44.4" y="178.3" text-anchor="end" font-size="10.0">50</text>
<text x="44.4" y="206.5" text-anchor="end" font-size="10.0">25</text>
<text x="44.4" y="234.7" text-anchor="end" font-size="10.0">0</text>
<text x="44.4" y="262.9" text-anchor="end" font-size="10.0">−25</text>
<text x="44.4" y="291.1" text-anchor="end" font-size="10.0">−50</text>
<rect x="47.5" y="298.4" width="282" height="14.7" fill="#e6dff0" stroke="#5a5a5a" stroke-width="1"/>
<line x1="104.25" y1="298.4" x2="104.25" y2="313.1" stroke="#5a5a5a" stroke-width="1"/>
<line x1="160.52" y1="298.4" x2="160.52" y2="313.1" stroke="#5a5a5a" stroke-width="1"/>
<line x1="216.79" y1="298.4" x2="216.79" y2="313.1" stroke="#5a5a5a" stroke-width="1"/>
<line x1="273.06" y1="298.4" x2="273.06" y2="313.1" stroke="#5a5a5a" stroke-width="1"/>
<text x="76.11" y="309.15" text-anchor="middle" font-size="9.8">2020</text>
<text x="132.38" y="309.15" text-anchor="middle" font-size="9.8">2030</text>
<text x="188.66" y="309.15" text-anchor="middle" font-size="9.8">2040</text>
<text x="244.93" y="309.15" text-anchor="middle" font-size="9.8">2050</text>
<text x="301.19" y="309.15" text-anchor="middle" font-size="9.8">2060</text>
<text transform="translate(25.4,236.75) rotate(-90)" text-anchor="middle" font-size="11.8" textLength="139.5" lengthAdjust="spacing">Carbon emission flows (MT)</text>
<text x="3.5" y="167" font-size="16.0" font-weight="bold">c</text>
<clipPath id="clipd"><rect x="386.9" y="175.1" width="281.5" height="123.3"/></clipPath>
<g>
<rect x="391.18" y="234.8" width="6.04" height="1.6" fill="#fde3c8" stroke="#6a6a6a" stroke-width="0.75"/>
<rect x="397.22" y="236.4" width="6.04" height="0.25" fill="#fbb3b3" stroke="#6a6a6a" stroke-width="0.75"/>
<rect x="403.25" y="236.4" width="6.04" height="1.48" fill="#fef2b2" stroke="#6a6a6a" stroke-width="0.75"/>
<rect x="409.29" y="236.4" width="6.04" height="0.98" fill="#d3ecd3" stroke="#6a6a6a" stroke-width="0.75"/>
<rect x="415.33" y="236.4" width="6.04" height="1.23" fill="#fdc1e1" stroke="#6a6a6a" stroke-width="0.75"/>
<rect x="421.36" y="235.05" width="6.04" height="1.35" fill="#d9cce5" stroke="#6a6a6a" stroke-width="0.75"/>
<rect x="427.4" y="236.4" width="6.04" height="0.37" fill="#d5eef2" stroke="#6a6a6a" stroke-width="0.75"/>
<rect x="433.43" y="236.4" width="6.04" height="0.25" fill="#8ffafa" stroke="#6a6a6a" stroke-width="0.75"/>
<rect x="447.51" y="233.33" width="6.04" height="3.08" fill="#fde3c8" stroke="#6a6a6a" stroke-width="0.75"/>
<rect x="453.55" y="232.46" width="6.04" height="3.94" fill="#fbb3b3" stroke="#6a6a6a" stroke-width="0.75"/>
<rect x="459.58" y="231.6" width="6.04" height="4.8" fill="#fef2b2" stroke="#6a6a6a" stroke-width="0.75"/>
<rect x="465.62" y="236.4" width="6.04" height="12.91" fill="#d3ecd3" stroke="#6a6a6a" stroke-width="0.75"/>
<rect x="471.66" y="227.42" width="6.04" height="8.98" fill="#fdc1e1" stroke="#6a6a6a" stroke-width="0.75"/>
<rect x="477.69" y="205.03" width="6.04" height="31.36" fill="#d9cce5" stroke="#6a6a6a" stroke-width="0.75"/>
<rect x="483.73" y="236.4" width="6.04" height="33.46" fill="#d5eef2" stroke="#6a6a6a" stroke-width="0.75"/>
<rect x="489.76" y="236.4" width="6.04" height="7.75" fill="#8ffafa" stroke="#6a6a6a" stroke-width="0.75"/>
<rect x="503.84" y="230.87" width="6.04" height="5.54" fill="#fde3c8" stroke="#6a6a6a" stroke-width="0.75"/>
<rect x="509.88" y="232.46" width="6.04" height="3.94" fill="#fbb3b3" stroke="#6a6a6a" stroke-width="0.75"/>
<rect x="515.91" y="230.74" width="6.04" height="5.66" fill="#fef2b2" stroke="#6a6a6a" stroke-width="0.75"/>
<rect x="521.95" y="236.4" width="6.04" height="15.25" fill="#d3ecd3" stroke="#6a6a6a" stroke-width="0.75"/>
<rect x="527.99" y="218.69" width="6.04" height="17.71" fill="#fdc1e1" stroke="#6a6a6a" stroke-width="0.75"/>
<rect x="534.02" y="203.31" width="6.04" height="33.09" fill="#d9cce5" stroke="#6a6a6a" stroke-width="0.75"/>
<rect x="540.06" y="236.4" width="6.04" height="42.44" fill="#d5eef2" stroke="#6a6a6a" stroke-width="0.75"/>
<rect x="546.09" y="236.4" width="6.04" height="8.86" fill="#8ffafa" stroke="#6a6a6a" stroke-width="0.75"/>
<rect x="560.17" y="229.51" width="6.04" height="6.89" fill="#fde3c8" stroke="#6a6a6a" stroke-width="0.75"/>
<rect x="566.21" y="236.4" width="6.04" height="0.49" fill="#fbb3b3" stroke="#6a6a6a" stroke-width="0.75"/>
<rect x="572.24" y="233.94" width="6.04" height="2.46" fill="#fef2b2" stroke="#6a6a6a" stroke-width="0.75"/>
<rect x="578.28" y="236.4" width="6.04" height="9.84" fill="#d3ecd3" stroke="#6a6a6a" stroke-width="0.75"/>
<rect x="584.32" y="216.35" width="6.04" height="20.05" fill="#fdc1e1" stroke="#6a6a6a" stroke-width="0.75"/>
<rect x="590.35" y="224.59" width="6.04" height="11.81" fill="#d9cce5" stroke="#6a6a6a" stroke-width="0.75"/>
<rect x="596.39" y="236.4" width="6.04" height="27.55" fill="#d5eef2" stroke="#6a6a6a" stroke-width="0.75"/>
<rect x="602.42" y="236.4" width="6.04" height="5.17" fill="#8ffafa" stroke="#6a6a6a" stroke-width="0.75"/>
<rect x="616.5" y="228.77" width="6.04" height="7.63" fill="#fde3c8" stroke="#6a6a6a" stroke-width="0.75"/>
<rect x="622.54" y="236.4" width="6.04" height="2.34" fill="#fbb3b3" stroke="#6a6a6a" stroke-width="0.75"/>
<rect x="628.57" y="236.4" width="6.04" height="0.37" fill="#fef2b2" stroke="#6a6a6a" stroke-width="0.75"/>
<rect x="634.61" y="236.4" width="6.04" height="3.94" fill="#d3ecd3" stroke="#6a6a6a" stroke-width="0.75"/>
<rect x="640.64" y="217.58" width="6.04" height="18.82" fill="#fdc1e1" stroke="#6a6a6a" stroke-width="0.75"/>
<rect x="646.68" y="236.4" width="6.04" height="6.64" fill="#d9cce5" stroke="#6a6a6a" stroke-width="0.75"/>
<rect x="652.72" y="236.4" width="6.04" height="12.18" fill="#d5eef2" stroke="#6a6a6a" stroke-width="0.75"/>
<rect x="658.75" y="236.4" width="6.04" height="1.11" fill="#8ffafa" stroke="#6a6a6a" stroke-width="0.75"/>
</g>
<g clip-path="url(#clipd)" fill="none" stroke-width="0.45" stroke-dasharray="2.4 1.1">
<path d="M394.2,234.8 L397.1,234.7 L399.9,234.7 L402.8,234.6 L405.6,234.6 L408.5,234.5 L411.3,234.4 L414.2,234.4 L417.0,234.3 L419.9,234.2 L422.7,234.2 L425.6,234.1 L428.4,234.0 L431.3,234.0 L434.1,233.9 L437.0,233.8 L439.8,233.7 L442.7,233.6 L445.5,233.5 L448.4,233.4 L451.2,233.3 L454.1,233.2 L456.9,233.1 L459.8,232.9 L462.7,232.8 L465.5,232.7 L468.4,232.6 L471.2,232.4 L474.1,232.3 L476.9,232.2 L479.8,232.0 L482.6,231.9 L485.5,231.8 L488.3,231.6 L491.2,231.5 L494.0,231.4 L496.9,231.3 L499.7,231.1 L502.6,231.0 L505.4,230.9 L508.3,230.8 L511.1,230.7 L514.0,230.6 L516.8,230.5 L519.7,230.4 L522.5,230.4 L525.4,230.3 L528.3,230.2 L531.1,230.1 L534.0,230.1 L536.8,230.0 L539.7,229.9 L542.5,229.9 L545.4,229.8 L548.2,229.8 L551.1,229.7 L553.9,229.7 L556.8,229.6 L559.6,229.6 L562.5,229.5 L565.3,229.5 L568.2,229.4 L571.0,229.4 L573.9,229.4 L576.7,229.3 L579.6,229.3 L582.4,229.2 L585.3,229.2 L588.1,229.2 L591.0,229.1 L593.9,229.1 L596.7,229.0 L599.6,229.0 L602.4,229.0 L605.3,228.9 L608.1,228.9 L611.0,228.9 L613.8,228.8 L616.7,228.8 L619.5,228.8" stroke="#9dd2f2"/>
<path d="M400.2,236.6 L403.1,236.4 L405.9,236.1 L408.8,235.9 L411.6,235.7 L414.5,235.4 L417.3,235.2 L420.2,234.9 L423.1,234.7 L425.9,234.5 L428.8,234.2 L431.6,234.0 L434.5,233.8 L437.3,233.6 L440.2,233.4 L443.0,233.2 L445.9,233.0 L448.7,232.9 L451.6,232.7 L454.4,232.6 L457.3,232.4 L460.1,232.3 L463.0,232.2 L465.8,232.1 L468.7,232.0 L471.5,231.9 L474.4,231.9 L477.2,231.8 L480.1,231.8 L482.9,231.8 L485.8,231.7 L488.7,231.8 L491.5,231.8 L494.4,231.8 L497.2,231.9 L500.1,231.9 L502.9,232.0 L505.8,232.1 L508.6,232.3 L511.5,232.4 L514.3,232.5 L517.2,232.7 L520.0,232.9 L522.9,233.1 L525.7,233.3 L528.6,233.5 L531.4,233.8 L534.3,234.0 L537.1,234.3 L540.0,234.5 L542.8,234.8 L545.7,235.0 L548.5,235.3 L551.4,235.5 L554.3,235.7 L557.1,236.0 L560.0,236.2 L562.8,236.4 L565.7,236.6 L568.5,236.8 L571.4,237.0 L574.2,237.2 L577.1,237.4 L579.9,237.5 L582.8,237.6 L585.6,237.8 L588.5,237.9 L591.3,238.0 L594.2,238.1 L597.0,238.2 L599.9,238.2 L602.7,238.3 L605.6,238.4 L608.4,238.4 L611.3,238.5 L614.1,238.5 L617.0,238.6 L619.9,238.6 L622.7,238.7 L625.6,238.7" stroke="#3a98d8"/>
<path d="M406.3,237.9 L409.1,237.5 L412.0,237.1 L414.8,236.8 L417.7,236.4 L420.5,236.0 L423.4,235.7 L426.2,235.3 L429.1,234.9 L431.9,234.6 L434.8,234.3 L437.6,233.9 L440.5,233.6 L443.3,233.3 L446.2,233.0 L449.1,232.7 L451.9,232.5 L454.8,232.2 L457.6,232.0 L460.5,231.8 L463.3,231.6 L466.2,231.4 L469.0,231.2 L471.9,231.0 L474.7,230.9 L477.6,230.8 L480.4,230.7 L483.3,230.6 L486.1,230.5 L489.0,230.5 L491.8,230.4 L494.7,230.4 L497.5,230.4 L500.4,230.4 L503.2,230.4 L506.1,230.4 L508.9,230.5 L511.8,230.5 L514.7,230.6 L517.5,230.7 L520.4,230.8 L523.2,230.9 L526.1,231.0 L528.9,231.1 L531.8,231.3 L534.6,231.4 L537.5,231.6 L540.3,231.7 L543.2,231.9 L546.0,232.1 L548.9,232.3 L551.7,232.4 L554.6,232.6 L557.4,232.8 L560.3,233.0 L563.1,233.2 L566.0,233.4 L568.8,233.5 L571.7,233.7 L574.5,233.9 L577.4,234.1 L580.3,234.2 L583.1,234.4 L586.0,234.6 L588.8,234.7 L591.7,234.9 L594.5,235.0 L597.4,235.2 L600.2,235.3 L603.1,235.4 L605.9,235.6 L608.8,235.7 L611.6,235.9 L614.5,236.0 L617.3,236.1 L620.2,236.3 L623.0,236.4 L625.9,236.5 L628.7,236.6 L631.6,236.8" stroke="#f2a6c8"/>
<path d="M412.3,237.4 L415.2,238.1 L418.0,238.8 L420.9,239.5 L423.7,240.2 L426.6,240.9 L429.4,241.6 L432.3,242.2 L435.1,242.9 L438.0,243.6 L440.8,244.2 L443.7,244.8 L446.5,245.4 L449.4,246.0 L452.2,246.6 L455.1,247.1 L457.9,247.6 L460.8,248.1 L463.6,248.6 L466.5,249.0 L469.4,249.4 L472.2,249.8 L475.1,250.1 L477.9,250.4 L480.8,250.7 L483.6,251.0 L486.5,251.2 L489.3,251.4 L492.2,251.6 L495.0,251.7 L497.9,251.8 L500.7,251.9 L503.6,252.0 L506.4,252.0 L509.3,252.0 L512.1,252.0 L515.0,252.0 L517.8,251.9 L520.7,251.8 L523.5,251.7 L526.4,251.6 L529.2,251.4 L532.1,251.2 L534.9,251.0 L537.8,250.8 L540.7,250.6 L543.5,250.3 L546.4,250.1 L549.2,249.8 L552.1,249.5 L554.9,249.2 L557.8,248.9 L560.6,248.6 L563.5,248.3 L566.3,248.0 L569.2,247.6 L572.0,247.3 L574.9,247.0 L577.7,246.6 L580.6,246.3 L583.4,246.0 L586.3,245.7 L589.1,245.4 L592.0,245.0 L594.8,244.7 L597.7,244.4 L600.5,244.1 L603.4,243.8 L606.3,243.5 L609.1,243.2 L612.0,242.9 L614.8,242.6 L617.7,242.4 L620.5,242.1 L623.4,241.8 L626.2,241.5 L629.1,241.2 L631.9,240.9 L634.8,240.6 L637.6,240.3" stroke="#e0506a"/>
<path d="M418.3,237.6 L421.2,237.1 L424.0,236.6 L426.9,236.1 L429.8,235.6 L432.6,235.0 L435.5,234.5 L438.3,234.0 L441.2,233.5 L444.0,233.0 L446.9,232.5 L449.7,231.9 L452.6,231.4 L455.4,230.9 L458.3,230.4 L461.1,229.9 L464.0,229.4 L466.8,228.8 L469.7,228.3 L472.5,227.8 L475.4,227.3 L478.2,226.8 L481.1,226.3 L483.9,225.7 L486.8,225.2 L489.6,224.7 L492.5,224.2 L495.4,223.7 L498.2,223.3 L501.1,222.8 L503.9,222.3 L506.8,221.9 L509.6,221.4 L512.5,221.0 L515.3,220.6 L518.2,220.2 L521.0,219.8 L523.9,219.5 L526.7,219.2 L529.6,218.8 L532.4,218.5 L535.3,218.3 L538.1,218.0 L541.0,217.8 L543.8,217.6 L546.7,217.4 L549.5,217.2 L552.4,217.1 L555.2,216.9 L558.1,216.8 L561.0,216.7 L563.8,216.6 L566.7,216.5 L569.5,216.5 L572.4,216.4 L575.2,216.4 L578.1,216.4 L580.9,216.4 L583.8,216.3 L586.6,216.3 L589.5,216.4 L592.3,216.4 L595.2,216.4 L598.0,216.4 L600.9,216.5 L603.7,216.5 L606.6,216.6 L609.4,216.6 L612.3,216.7 L615.1,216.8 L618.0,216.8 L620.8,216.9 L623.7,217.0 L626.5,217.1 L629.4,217.1 L632.3,217.2 L635.1,217.3 L638.0,217.4 L640.8,217.5 L643.7,217.6" stroke="#b0d890"/>
<path d="M424.4,235.0 L427.2,233.2 L430.1,231.4 L432.9,229.6 L435.8,227.8 L438.6,226.1 L441.5,224.3 L444.3,222.6 L447.2,220.9 L450.0,219.2 L452.9,217.6 L455.8,216.1 L458.6,214.6 L461.5,213.1 L464.3,211.7 L467.2,210.4 L470.0,209.1 L472.9,207.9 L475.7,206.8 L478.6,205.8 L481.4,204.8 L484.3,204.0 L487.1,203.2 L490.0,202.5 L492.8,201.9 L495.7,201.4 L498.5,201.0 L501.4,200.7 L504.2,200.4 L507.1,200.2 L509.9,200.2 L512.8,200.2 L515.6,200.2 L518.5,200.4 L521.4,200.6 L524.2,201.0 L527.1,201.3 L529.9,201.8 L532.8,202.4 L535.6,203.0 L538.5,203.7 L541.3,204.4 L544.2,205.3 L547.0,206.1 L549.9,207.1 L552.7,208.1 L555.6,209.1 L558.4,210.2 L561.3,211.3 L564.1,212.4 L567.0,213.6 L569.8,214.8 L572.7,216.0 L575.5,217.2 L578.4,218.4 L581.2,219.6 L584.1,220.8 L587.0,222.0 L589.8,223.2 L592.7,224.3 L595.5,225.4 L598.4,226.5 L601.2,227.6 L604.1,228.6 L606.9,229.6 L609.8,230.6 L612.6,231.6 L615.5,232.6 L618.3,233.5 L621.2,234.4 L624.0,235.3 L626.9,236.2 L629.7,237.1 L632.6,238.0 L635.4,238.8 L638.3,239.7 L641.1,240.5 L644.0,241.4 L646.8,242.2 L649.7,243.0" stroke="#3aa84a"/>
<path d="M430.4,236.8 L433.3,238.7 L436.1,240.6 L439.0,242.5 L441.8,244.4 L444.7,246.3 L447.5,248.1 L450.4,250.0 L453.2,251.8 L456.1,253.6 L458.9,255.3 L461.8,257.0 L464.6,258.7 L467.5,260.3 L470.3,261.9 L473.2,263.4 L476.0,264.9 L478.9,266.3 L481.8,267.7 L484.6,268.9 L487.5,270.2 L490.3,271.3 L493.2,272.4 L496.0,273.3 L498.9,274.3 L501.7,275.1 L504.6,275.9 L507.4,276.6 L510.3,277.2 L513.1,277.7 L516.0,278.2 L518.8,278.6 L521.7,278.9 L524.5,279.1 L527.4,279.3 L530.2,279.4 L533.1,279.4 L535.9,279.3 L538.8,279.2 L541.6,279.0 L544.5,278.7 L547.4,278.3 L550.2,277.9 L553.1,277.3 L555.9,276.8 L558.8,276.1 L561.6,275.5 L564.5,274.7 L567.3,274.0 L570.2,273.2 L573.0,272.3 L575.9,271.5 L578.7,270.6 L581.6,269.7 L584.4,268.8 L587.3,267.8 L590.1,266.9 L593.0,266.0 L595.8,265.1 L598.7,264.2 L601.5,263.3 L604.4,262.4 L607.2,261.6 L610.1,260.7 L613.0,259.9 L615.8,259.1 L618.7,258.3 L621.5,257.5 L624.4,256.7 L627.2,255.9 L630.1,255.2 L632.9,254.4 L635.8,253.7 L638.6,252.9 L641.5,252.2 L644.3,251.5 L647.2,250.7 L650.0,250.0 L652.9,249.3 L655.7,248.6" stroke="#f6b088"/>
<path d="M436.4,236.6 L439.3,237.1 L442.2,237.5 L445.0,238.0 L447.9,238.4 L450.7,238.9 L453.6,239.3 L456.4,239.7 L459.3,240.2 L462.1,240.6 L465.0,241.0 L467.8,241.4 L470.7,241.7 L473.5,242.1 L476.4,242.5 L479.2,242.8 L482.1,243.1 L484.9,243.4 L487.8,243.7 L490.6,244.0 L493.5,244.2 L496.3,244.4 L499.2,244.6 L502.0,244.8 L504.9,245.0 L507.8,245.1 L510.6,245.3 L513.5,245.4 L516.3,245.4 L519.2,245.5 L522.0,245.6 L524.9,245.6 L527.7,245.6 L530.6,245.6 L533.4,245.6 L536.3,245.6 L539.1,245.5 L542.0,245.5 L544.8,245.4 L547.7,245.3 L550.5,245.2 L553.4,245.1 L556.2,245.0 L559.1,244.8 L561.9,244.7 L564.8,244.5 L567.6,244.3 L570.5,244.2 L573.4,244.0 L576.2,243.8 L579.1,243.6 L581.9,243.4 L584.8,243.2 L587.6,242.9 L590.5,242.7 L593.3,242.5 L596.2,242.3 L599.0,242.1 L601.9,241.8 L604.7,241.6 L607.6,241.4 L610.4,241.2 L613.3,241.0 L616.1,240.8 L619.0,240.5 L621.8,240.3 L624.7,240.1 L627.5,239.9 L630.4,239.7 L633.2,239.5 L636.1,239.3 L639.0,239.1 L641.8,238.9 L644.7,238.7 L647.5,238.5 L650.4,238.3 L653.2,238.1 L656.1,237.9 L658.9,237.7 L661.8,237.5" stroke="#f0903a"/>
</g>
<line x1="386.9" y1="236.4" x2="668.4" y2="236.4" stroke="#484848" stroke-width="1.1"/>
<g fill="#ff0000">
<path d="M394.20,232.35 L394.88,233.87 L396.53,234.04 L395.29,235.16 L395.64,236.78 L394.20,235.95 L392.76,236.78 L393.11,235.16 L391.87,234.04 L393.53,233.87Z"/>
<path d="M400.24,234.20 L400.91,235.72 L402.57,235.89 L401.33,237.00 L401.68,238.63 L400.24,237.80 L398.80,238.63 L399.14,237.00 L397.91,235.89 L399.56,235.72Z"/>
<path d="M406.27,235.43 L406.95,236.95 L408.60,237.12 L407.37,238.23 L407.71,239.86 L406.27,239.03 L404.83,239.86 L405.18,238.23 L403.94,237.12 L405.60,236.95Z"/>
<path d="M412.31,234.93 L412.98,236.45 L414.64,236.63 L413.40,237.74 L413.75,239.37 L412.31,238.53 L410.87,239.37 L411.21,237.74 L409.98,236.63 L411.63,236.45Z"/>
<path d="M418.34,235.18 L419.02,236.70 L420.67,236.87 L419.44,237.99 L419.78,239.61 L418.34,238.78 L416.90,239.61 L417.25,237.99 L416.01,236.87 L417.67,236.70Z"/>
<path d="M424.38,232.60 L425.05,234.12 L426.71,234.29 L425.47,235.40 L425.82,237.03 L424.38,236.20 L422.94,237.03 L423.28,235.40 L422.05,234.29 L423.70,234.12Z"/>
<path d="M430.41,234.32 L431.09,235.84 L432.74,236.01 L431.51,237.12 L431.85,238.75 L430.41,237.92 L428.97,238.75 L429.32,237.12 L428.08,236.01 L429.74,235.84Z"/>
<path d="M436.45,234.20 L437.12,235.72 L438.78,235.89 L437.54,237.00 L437.89,238.63 L436.45,237.80 L435.01,238.63 L435.36,237.00 L434.12,235.89 L435.77,235.72Z"/>
<path d="M450.53,230.88 L451.21,232.39 L452.86,232.57 L451.62,233.68 L451.97,235.31 L450.53,234.48 L449.09,235.31 L449.44,233.68 L448.20,232.57 L449.86,232.39Z"/>
<path d="M456.57,230.01 L457.24,231.53 L458.90,231.71 L457.66,232.82 L458.01,234.45 L456.57,233.61 L455.13,234.45 L455.47,232.82 L454.24,231.71 L455.89,231.53Z"/>
<path d="M462.60,229.15 L463.28,230.67 L464.93,230.85 L463.70,231.96 L464.04,233.59 L462.60,232.75 L461.16,233.59 L461.51,231.96 L460.27,230.85 L461.93,230.67Z"/>
<path d="M468.64,246.87 L469.31,248.38 L470.97,248.56 L469.73,249.67 L470.08,251.30 L468.64,250.47 L467.20,251.30 L467.54,249.67 L466.31,248.56 L467.96,248.38Z"/>
<path d="M474.67,224.97 L475.35,226.49 L477.00,226.66 L475.77,227.78 L476.11,229.40 L474.67,228.57 L473.23,229.40 L473.58,227.78 L472.34,226.66 L474.00,226.49Z"/>
<path d="M480.71,202.59 L481.38,204.10 L483.04,204.28 L481.80,205.39 L482.15,207.02 L480.71,206.19 L479.27,207.02 L479.61,205.39 L478.38,204.28 L480.03,204.10Z"/>
<path d="M486.74,267.41 L487.42,268.93 L489.07,269.10 L487.84,270.21 L488.18,271.84 L486.74,271.01 L485.30,271.84 L485.65,270.21 L484.41,269.10 L486.07,268.93Z"/>
<path d="M492.78,241.70 L493.45,243.22 L495.11,243.39 L493.87,244.50 L494.22,246.13 L492.78,245.30 L491.34,246.13 L491.69,244.50 L490.45,243.39 L492.10,243.22Z"/>
<path d="M506.86,228.42 L507.54,229.93 L509.19,230.11 L507.95,231.22 L508.30,232.85 L506.86,232.02 L505.42,232.85 L505.77,231.22 L504.53,230.11 L506.19,229.93Z"/>
<path d="M512.90,230.01 L513.57,231.53 L515.23,231.71 L513.99,232.82 L514.34,234.45 L512.90,233.61 L511.46,234.45 L511.80,232.82 L510.57,231.71 L512.22,231.53Z"/>
<path d="M518.93,228.29 L519.61,229.81 L521.26,229.98 L520.03,231.10 L520.37,232.72 L518.93,231.89 L517.49,232.72 L517.84,231.10 L516.60,229.98 L518.26,229.81Z"/>
<path d="M524.97,249.20 L525.64,250.72 L527.30,250.89 L526.06,252.01 L526.41,253.63 L524.97,252.80 L523.53,253.63 L523.87,252.01 L522.64,250.89 L524.29,250.72Z"/>
<path d="M531.00,216.24 L531.68,217.76 L533.33,217.93 L532.10,219.04 L532.44,220.67 L531.00,219.84 L529.56,220.67 L529.91,219.04 L528.67,217.93 L530.33,217.76Z"/>
<path d="M537.04,200.86 L537.71,202.38 L539.37,202.56 L538.13,203.67 L538.48,205.30 L537.04,204.46 L535.60,205.30 L535.94,203.67 L534.71,202.56 L536.36,202.38Z"/>
<path d="M543.07,276.39 L543.75,277.90 L545.40,278.08 L544.17,279.19 L544.51,280.82 L543.07,279.99 L541.63,280.82 L541.98,279.19 L540.74,278.08 L542.40,277.90Z"/>
<path d="M549.11,242.81 L549.78,244.33 L551.44,244.50 L550.20,245.61 L550.55,247.24 L549.11,246.41 L547.67,247.24 L548.02,245.61 L546.78,244.50 L548.43,244.33Z"/>
<path d="M563.19,227.06 L563.87,228.58 L565.52,228.75 L564.28,229.87 L564.63,231.49 L563.19,230.66 L561.75,231.49 L562.10,229.87 L560.86,228.75 L562.52,228.58Z"/>
<path d="M569.23,234.44 L569.90,235.96 L571.56,236.13 L570.32,237.25 L570.67,238.87 L569.23,238.04 L567.79,238.87 L568.13,237.25 L566.90,236.13 L568.55,235.96Z"/>
<path d="M575.26,231.49 L575.94,233.01 L577.59,233.18 L576.36,234.30 L576.70,235.92 L575.26,235.09 L573.82,235.92 L574.17,234.30 L572.93,233.18 L574.59,233.01Z"/>
<path d="M581.30,243.79 L581.97,245.31 L583.63,245.48 L582.39,246.60 L582.74,248.22 L581.30,247.39 L579.86,248.22 L580.20,246.60 L578.97,245.48 L580.62,245.31Z"/>
<path d="M587.33,213.90 L588.01,215.42 L589.66,215.59 L588.43,216.71 L588.77,218.33 L587.33,217.50 L585.89,218.33 L586.24,216.71 L585.00,215.59 L586.66,215.42Z"/>
<path d="M593.37,222.14 L594.04,223.66 L595.70,223.83 L594.46,224.95 L594.81,226.57 L593.37,225.74 L591.93,226.57 L592.27,224.95 L591.04,223.83 L592.69,223.66Z"/>
<path d="M599.40,261.50 L600.08,263.02 L601.73,263.19 L600.50,264.31 L600.84,265.93 L599.40,265.10 L597.96,265.93 L598.31,264.31 L597.07,263.19 L598.73,263.02Z"/>
<path d="M605.44,239.12 L606.11,240.64 L607.77,240.81 L606.53,241.92 L606.88,243.55 L605.44,242.72 L604.00,243.55 L604.35,241.92 L603.11,240.81 L604.76,240.64Z"/>
<path d="M619.52,226.32 L620.20,227.84 L621.85,228.02 L620.61,229.13 L620.96,230.76 L619.52,229.92 L618.08,230.76 L618.43,229.13 L617.19,228.02 L618.85,227.84Z"/>
<path d="M625.56,236.29 L626.23,237.81 L627.89,237.98 L626.65,239.09 L627.00,240.72 L625.56,239.89 L624.12,240.72 L624.46,239.09 L623.23,237.98 L624.88,237.81Z"/>
<path d="M631.59,234.32 L632.27,235.84 L633.92,236.01 L632.69,237.12 L633.03,238.75 L631.59,237.92 L630.15,238.75 L630.50,237.12 L629.26,236.01 L630.92,235.84Z"/>
<path d="M637.63,237.89 L638.30,239.41 L639.96,239.58 L638.72,240.69 L639.07,242.32 L637.63,241.49 L636.19,242.32 L636.53,240.69 L635.30,239.58 L636.95,239.41Z"/>
<path d="M643.66,215.13 L644.34,216.65 L645.99,216.82 L644.76,217.94 L645.10,219.56 L643.66,218.73 L642.22,219.56 L642.57,217.94 L641.33,216.82 L642.99,216.65Z"/>
<path d="M649.70,240.59 L650.37,242.11 L652.03,242.28 L650.79,243.40 L651.14,245.02 L649.70,244.19 L648.26,245.02 L648.60,243.40 L647.37,242.28 L649.02,242.11Z"/>
<path d="M655.73,246.13 L656.41,247.65 L658.06,247.82 L656.83,248.93 L657.17,250.56 L655.73,249.73 L654.29,250.56 L654.64,248.93 L653.40,247.82 L655.06,247.65Z"/>
<path d="M661.77,235.06 L662.44,236.58 L664.10,236.75 L662.86,237.86 L663.21,239.49 L661.77,238.66 L660.33,239.49 L660.68,237.86 L659.44,236.75 L661.09,236.58Z"/>
</g>
<rect x="386.9" y="175.1" width="281.5" height="123.3" fill="none" stroke="#6e6e6e" stroke-width="1.0"/>
<g stroke="#6e6e6e" stroke-width="0.9"><line x1="386.9" y1="282.52" x2="388.7" y2="282.52"/><line x1="386.9" y1="267.15" x2="389.4" y2="267.15"/><line x1="386.9" y1="251.78" x2="388.7" y2="251.78"/><line x1="386.9" y1="236.4" x2="389.4" y2="236.4"/><line x1="386.9" y1="221.03" x2="388.7" y2="221.03"/><line x1="386.9" y1="205.65" x2="389.4" y2="205.65"/><line x1="386.9" y1="190.28" x2="388.7" y2="190.28"/></g>
<text x="383.8" y="178.4" text-anchor="end" font-size="10.0">50</text>
<text x="383.8" y="209.15" text-anchor="end" font-size="10.0">25</text>
<text x="383.8" y="239.9" text-anchor="end" font-size="10.0">0</text>
<text x="383.8" y="270.65" text-anchor="end" font-size="10.0">−25</text>
<text x="383.8" y="301.4" text-anchor="end" font-size="10.0">−50</text>
<rect x="386.9" y="298.4" width="281.5" height="14.5" fill="#e6dff0" stroke="#5a5a5a" stroke-width="1"/>
<line x1="443.49" y1="298.4" x2="443.49" y2="312.9" stroke="#5a5a5a" stroke-width="1"/>
<line x1="499.82" y1="298.4" x2="499.82" y2="312.9" stroke="#5a5a5a" stroke-width="1"/>
<line x1="556.15" y1="298.4" x2="556.15" y2="312.9" stroke="#5a5a5a" stroke-width="1"/>
<line x1="612.48" y1="298.4" x2="612.48" y2="312.9" stroke="#5a5a5a" stroke-width="1"/>
<text x="415.33" y="309.05" text-anchor="middle" font-size="9.8">2020</text>
<text x="471.66" y="309.05" text-anchor="middle" font-size="9.8">2030</text>
<text x="527.99" y="309.05" text-anchor="middle" font-size="9.8">2040</text>
<text x="584.32" y="309.05" text-anchor="middle" font-size="9.8">2050</text>
<text x="640.64" y="309.05" text-anchor="middle" font-size="9.8">2060</text>
<text transform="translate(368.1,236.4) rotate(-90)" text-anchor="middle" font-size="11.8" textLength="139.5" lengthAdjust="spacing">Carbon emission flows (MT)</text>
<text x="344.3" y="167" font-size="16.0" font-weight="bold">d</text>
<clipPath id="clipe"><rect x="46.7" y="336.6" width="281.7" height="123.8"/></clipPath>
<g>
<rect x="51.18" y="396.79" width="6.04" height="1.61" fill="#fde3c8" stroke="#6a6a6a" stroke-width="0.75"/>
<rect x="57.22" y="398.4" width="6.04" height="0.25" fill="#fbb3b3" stroke="#6a6a6a" stroke-width="0.75"/>
<rect x="63.25" y="398.4" width="6.04" height="1.49" fill="#fef2b2" stroke="#6a6a6a" stroke-width="0.75"/>
<rect x="69.29" y="398.4" width="6.04" height="0.99" fill="#d3ecd3" stroke="#6a6a6a" stroke-width="0.75"/>
<rect x="75.32" y="398.4" width="6.04" height="1.24" fill="#fdc1e1" stroke="#6a6a6a" stroke-width="0.75"/>
<rect x="81.36" y="397.04" width="6.04" height="1.36" fill="#d9cce5" stroke="#6a6a6a" stroke-width="0.75"/>
<rect x="87.4" y="398.4" width="6.04" height="0.37" fill="#d5eef2" stroke="#6a6a6a" stroke-width="0.75"/>
<rect x="93.43" y="398.4" width="6.04" height="0.25" fill="#8ffafa" stroke="#6a6a6a" stroke-width="0.75"/>
<rect x="107.51" y="395.3" width="6.04" height="3.1" fill="#fde3c8" stroke="#6a6a6a" stroke-width="0.75"/>
<rect x="113.55" y="394.44" width="6.04" height="3.96" fill="#fbb3b3" stroke="#6a6a6a" stroke-width="0.75"/>
<rect x="119.58" y="394.19" width="6.04" height="4.21" fill="#fef2b2" stroke="#6a6a6a" stroke-width="0.75"/>
<rect x="125.62" y="398.4" width="6.04" height="10.66" fill="#d3ecd3" stroke="#6a6a6a" stroke-width="0.75"/>
<rect x="131.66" y="386.63" width="6.04" height="11.77" fill="#fdc1e1" stroke="#6a6a6a" stroke-width="0.75"/>
<rect x="137.69" y="359" width="6.04" height="39.4" fill="#d9cce5" stroke="#6a6a6a" stroke-width="0.75"/>
<rect x="143.73" y="398.4" width="6.04" height="41.75" fill="#d5eef2" stroke="#6a6a6a" stroke-width="0.75"/>
<rect x="149.76" y="398.4" width="6.04" height="9.91" fill="#8ffafa" stroke="#6a6a6a" stroke-width="0.75"/>
<rect x="163.84" y="394.06" width="6.04" height="4.34" fill="#fde3c8" stroke="#6a6a6a" stroke-width="0.75"/>
<rect x="169.88" y="395.3" width="6.04" height="3.1" fill="#fbb3b3" stroke="#6a6a6a" stroke-width="0.75"/>
<rect x="175.91" y="393.57" width="6.04" height="4.83" fill="#fef2b2" stroke="#6a6a6a" stroke-width="0.75"/>
<rect x="181.95" y="398.4" width="6.04" height="12.14" fill="#d3ecd3" stroke="#6a6a6a" stroke-width="0.75"/>
<rect x="187.98" y="378.33" width="6.04" height="20.07" fill="#fdc1e1" stroke="#6a6a6a" stroke-width="0.75"/>
<rect x="194.02" y="360.11" width="6.04" height="38.29" fill="#d9cce5" stroke="#6a6a6a" stroke-width="0.75"/>
<rect x="200.06" y="398.4" width="6.04" height="47.95" fill="#d5eef2" stroke="#6a6a6a" stroke-width="0.75"/>
<rect x="206.09" y="398.4" width="6.04" height="10.16" fill="#8ffafa" stroke="#6a6a6a" stroke-width="0.75"/>
<rect x="220.17" y="393.57" width="6.04" height="4.83" fill="#fde3c8" stroke="#6a6a6a" stroke-width="0.75"/>
<rect x="226.21" y="398.4" width="6.04" height="0.37" fill="#fbb3b3" stroke="#6a6a6a" stroke-width="0.75"/>
<rect x="232.24" y="396.54" width="6.04" height="1.86" fill="#fef2b2" stroke="#6a6a6a" stroke-width="0.75"/>
<rect x="238.28" y="398.4" width="6.04" height="7.06" fill="#d3ecd3" stroke="#6a6a6a" stroke-width="0.75"/>
<rect x="244.31" y="375.23" width="6.04" height="23.17" fill="#fdc1e1" stroke="#6a6a6a" stroke-width="0.75"/>
<rect x="250.35" y="384.89" width="6.04" height="13.51" fill="#d9cce5" stroke="#6a6a6a" stroke-width="0.75"/>
<rect x="256.39" y="398.4" width="6.04" height="31.35" fill="#d5eef2" stroke="#6a6a6a" stroke-width="0.75"/>
<rect x="262.42" y="398.4" width="6.04" height="5.45" fill="#8ffafa" stroke="#6a6a6a" stroke-width="0.75"/>
<rect x="276.5" y="392.95" width="6.04" height="5.45" fill="#fde3c8" stroke="#6a6a6a" stroke-width="0.75"/>
<rect x="282.54" y="398.4" width="6.04" height="1.86" fill="#fbb3b3" stroke="#6a6a6a" stroke-width="0.75"/>
<rect x="288.57" y="398.4" width="6.04" height="0.37" fill="#fef2b2" stroke="#6a6a6a" stroke-width="0.75"/>
<rect x="294.61" y="398.4" width="6.04" height="2.85" fill="#d3ecd3" stroke="#6a6a6a" stroke-width="0.75"/>
<rect x="300.64" y="377.09" width="6.04" height="21.31" fill="#fdc1e1" stroke="#6a6a6a" stroke-width="0.75"/>
<rect x="306.68" y="398.4" width="6.04" height="7.06" fill="#d9cce5" stroke="#6a6a6a" stroke-width="0.75"/>
<rect x="312.72" y="398.4" width="6.04" height="14.12" fill="#d5eef2" stroke="#6a6a6a" stroke-width="0.75"/>
<rect x="318.75" y="398.4" width="6.04" height="0.87" fill="#8ffafa" stroke="#6a6a6a" stroke-width="0.75"/>
</g>
<g clip-path="url(#clipe)" fill="none" stroke-width="0.45" stroke-dasharray="2.4 1.1">
<path d="M54.2,396.8 L57.1,396.7 L59.9,396.6 L62.8,396.6 L65.6,396.5 L68.5,396.4 L71.3,396.3 L74.2,396.3 L77.0,396.2 L79.9,396.1 L82.7,396.0 L85.6,396.0 L88.4,395.9 L91.3,395.8 L94.1,395.7 L97.0,395.7 L99.8,395.6 L102.7,395.5 L105.5,395.4 L108.4,395.4 L111.2,395.3 L114.1,395.2 L116.9,395.1 L119.8,395.1 L122.7,395.0 L125.5,394.9 L128.4,394.8 L131.2,394.8 L134.1,394.7 L136.9,394.6 L139.8,394.6 L142.6,394.5 L145.5,394.5 L148.3,394.4 L151.2,394.3 L154.0,394.3 L156.9,394.2 L159.7,394.2 L162.6,394.1 L165.4,394.1 L168.3,394.0 L171.1,394.0 L174.0,394.0 L176.8,393.9 L179.7,393.9 L182.5,393.9 L185.4,393.8 L188.3,393.8 L191.1,393.8 L194.0,393.8 L196.8,393.8 L199.7,393.7 L202.5,393.7 L205.4,393.7 L208.2,393.7 L211.1,393.7 L213.9,393.6 L216.8,393.6 L219.6,393.6 L222.5,393.6 L225.3,393.6 L228.2,393.5 L231.0,393.5 L233.9,393.5 L236.7,393.4 L239.6,393.4 L242.4,393.4 L245.3,393.4 L248.1,393.3 L251.0,393.3 L253.9,393.3 L256.7,393.2 L259.6,393.2 L262.4,393.2 L265.3,393.1 L268.1,393.1 L271.0,393.1 L273.8,393.0 L276.7,393.0 L279.5,392.9" stroke="#9dd2f2"/>
<path d="M60.2,398.6 L63.1,398.4 L65.9,398.1 L68.8,397.8 L71.6,397.6 L74.5,397.3 L77.3,397.1 L80.2,396.8 L83.1,396.6 L85.9,396.3 L88.8,396.1 L91.6,395.9 L94.5,395.7 L97.3,395.4 L100.2,395.3 L103.0,395.1 L105.9,394.9 L108.7,394.8 L111.6,394.6 L114.4,394.5 L117.3,394.4 L120.1,394.3 L123.0,394.3 L125.8,394.2 L128.7,394.2 L131.5,394.2 L134.4,394.1 L137.2,394.2 L140.1,394.2 L142.9,394.2 L145.8,394.3 L148.7,394.3 L151.5,394.4 L154.4,394.5 L157.2,394.6 L160.1,394.7 L162.9,394.8 L165.8,394.9 L168.6,395.1 L171.5,395.2 L174.3,395.4 L177.2,395.5 L180.0,395.7 L182.9,395.9 L185.7,396.1 L188.6,396.2 L191.4,396.4 L194.3,396.6 L197.1,396.8 L200.0,397.0 L202.8,397.2 L205.7,397.4 L208.5,397.6 L211.4,397.8 L214.3,397.9 L217.1,398.1 L220.0,398.3 L222.8,398.4 L225.7,398.6 L228.5,398.7 L231.4,398.9 L234.2,399.0 L237.1,399.1 L239.9,399.2 L242.8,399.3 L245.6,399.4 L248.5,399.5 L251.3,399.6 L254.2,399.7 L257.0,399.7 L259.9,399.8 L262.7,399.9 L265.6,399.9 L268.4,400.0 L271.3,400.0 L274.1,400.1 L277.0,400.1 L279.9,400.2 L282.7,400.2 L285.6,400.3" stroke="#3a98d8"/>
<path d="M66.3,399.9 L69.1,399.5 L72.0,399.2 L74.8,398.9 L77.7,398.5 L80.5,398.2 L83.4,397.9 L86.2,397.5 L89.1,397.2 L91.9,396.9 L94.8,396.6 L97.6,396.3 L100.5,396.0 L103.3,395.7 L106.2,395.5 L109.1,395.2 L111.9,395.0 L114.8,394.7 L117.6,394.5 L120.5,394.3 L123.3,394.1 L126.2,394.0 L129.0,393.8 L131.9,393.7 L134.7,393.6 L137.6,393.5 L140.4,393.4 L143.3,393.3 L146.1,393.3 L149.0,393.2 L151.8,393.2 L154.7,393.2 L157.5,393.2 L160.4,393.2 L163.2,393.2 L166.1,393.2 L168.9,393.3 L171.8,393.4 L174.7,393.4 L177.5,393.5 L180.4,393.6 L183.2,393.7 L186.1,393.8 L188.9,394.0 L191.8,394.1 L194.6,394.2 L197.5,394.4 L200.3,394.5 L203.2,394.7 L206.0,394.9 L208.9,395.0 L211.7,395.2 L214.6,395.4 L217.4,395.5 L220.3,395.7 L223.1,395.9 L226.0,396.0 L228.8,396.2 L231.7,396.4 L234.5,396.5 L237.4,396.7 L240.3,396.8 L243.1,396.9 L246.0,397.1 L248.8,397.2 L251.7,397.3 L254.5,397.4 L257.4,397.6 L260.2,397.7 L263.1,397.8 L265.9,397.9 L268.8,398.0 L271.6,398.1 L274.5,398.2 L277.3,398.3 L280.2,398.4 L283.0,398.5 L285.9,398.6 L288.7,398.7 L291.6,398.8" stroke="#f2a6c8"/>
<path d="M72.3,399.4 L75.2,400.0 L78.0,400.5 L80.9,401.1 L83.7,401.7 L86.6,402.2 L89.4,402.8 L92.3,403.3 L95.1,403.9 L98.0,404.4 L100.8,404.9 L103.7,405.4 L106.5,405.9 L109.4,406.4 L112.2,406.8 L115.1,407.3 L117.9,407.7 L120.8,408.1 L123.6,408.5 L126.5,408.8 L129.4,409.1 L132.2,409.4 L135.1,409.7 L137.9,409.9 L140.8,410.2 L143.6,410.4 L146.5,410.5 L149.3,410.7 L152.2,410.8 L155.0,410.9 L157.9,411.0 L160.7,411.0 L163.6,411.0 L166.4,411.1 L169.3,411.0 L172.1,411.0 L175.0,410.9 L177.8,410.8 L180.7,410.7 L183.5,410.6 L186.4,410.5 L189.2,410.3 L192.1,410.1 L194.9,409.9 L197.8,409.7 L200.7,409.5 L203.5,409.2 L206.4,408.9 L209.2,408.7 L212.1,408.4 L214.9,408.1 L217.8,407.8 L220.6,407.5 L223.5,407.3 L226.3,407.0 L229.2,406.7 L232.0,406.4 L234.9,406.1 L237.7,405.8 L240.6,405.5 L243.4,405.3 L246.3,405.0 L249.1,404.8 L252.0,404.5 L254.8,404.3 L257.7,404.0 L260.5,403.8 L263.4,403.6 L266.3,403.4 L269.1,403.2 L272.0,403.0 L274.8,402.8 L277.7,402.6 L280.5,402.4 L283.4,402.2 L286.2,402.0 L289.1,401.8 L291.9,401.6 L294.8,401.4 L297.6,401.2" stroke="#e0506a"/>
<path d="M78.3,399.6 L81.2,398.9 L84.0,398.2 L86.9,397.5 L89.8,396.8 L92.6,396.1 L95.5,395.4 L98.3,394.7 L101.2,394.0 L104.0,393.4 L106.9,392.7 L109.7,392.0 L112.6,391.4 L115.4,390.7 L118.3,390.1 L121.1,389.4 L124.0,388.8 L126.8,388.2 L129.7,387.6 L132.5,387.1 L135.4,386.5 L138.2,385.9 L141.1,385.4 L143.9,384.9 L146.8,384.4 L149.6,383.9 L152.5,383.4 L155.4,383.0 L158.2,382.5 L161.1,382.1 L163.9,381.7 L166.8,381.3 L169.6,380.9 L172.5,380.5 L175.3,380.1 L178.2,379.8 L181.0,379.4 L183.9,379.1 L186.7,378.8 L189.6,378.5 L192.4,378.2 L195.3,377.9 L198.1,377.6 L201.0,377.4 L203.8,377.1 L206.7,376.9 L209.5,376.7 L212.4,376.5 L215.2,376.3 L218.1,376.2 L221.0,376.0 L223.8,375.8 L226.7,375.7 L229.5,375.6 L232.4,375.5 L235.2,375.4 L238.1,375.4 L240.9,375.3 L243.8,375.3 L246.6,375.2 L249.5,375.2 L252.3,375.2 L255.2,375.3 L258.0,375.3 L260.9,375.3 L263.7,375.4 L266.6,375.5 L269.4,375.6 L272.3,375.7 L275.1,375.8 L278.0,375.9 L280.8,376.0 L283.7,376.1 L286.5,376.2 L289.4,376.4 L292.3,376.5 L295.1,376.7 L298.0,376.8 L300.8,376.9 L303.7,377.1" stroke="#b0d890"/>
<path d="M84.4,397.0 L87.2,394.7 L90.1,392.3 L92.9,390.0 L95.8,387.6 L98.6,385.3 L101.5,383.1 L104.3,380.9 L107.2,378.7 L110.0,376.6 L112.9,374.5 L115.8,372.5 L118.6,370.6 L121.5,368.7 L124.3,367.0 L127.2,365.3 L130.0,363.8 L132.9,362.4 L135.7,361.0 L138.6,359.8 L141.4,358.7 L144.3,357.8 L147.1,357.0 L150.0,356.3 L152.8,355.7 L155.7,355.3 L158.5,355.0 L161.4,354.7 L164.2,354.6 L167.1,354.6 L169.9,354.7 L172.8,354.9 L175.6,355.2 L178.5,355.6 L181.4,356.1 L184.2,356.6 L187.1,357.3 L189.9,358.0 L192.8,358.8 L195.6,359.7 L198.5,360.6 L201.3,361.6 L204.2,362.6 L207.0,363.7 L209.9,364.9 L212.7,366.1 L215.6,367.3 L218.4,368.6 L221.3,369.9 L224.1,371.2 L227.0,372.5 L229.8,373.9 L232.7,375.2 L235.5,376.6 L238.4,378.0 L241.2,379.3 L244.1,380.7 L247.0,382.0 L249.8,383.3 L252.7,384.6 L255.5,385.8 L258.4,387.0 L261.2,388.2 L264.1,389.4 L266.9,390.5 L269.8,391.6 L272.6,392.7 L275.5,393.8 L278.3,394.8 L281.2,395.8 L284.0,396.9 L286.9,397.8 L289.7,398.8 L292.6,399.8 L295.4,400.8 L298.3,401.7 L301.1,402.7 L304.0,403.6 L306.8,404.5 L309.7,405.5" stroke="#3aa84a"/>
<path d="M90.4,398.8 L93.3,401.3 L96.1,403.7 L99.0,406.2 L101.8,408.7 L104.7,411.1 L107.5,413.5 L110.4,415.9 L113.2,418.2 L116.1,420.4 L118.9,422.7 L121.8,424.8 L124.6,426.9 L127.5,428.9 L130.3,430.9 L133.2,432.7 L136.0,434.5 L138.9,436.1 L141.8,437.7 L144.6,439.1 L147.5,440.5 L150.3,441.7 L153.2,442.8 L156.0,443.8 L158.9,444.7 L161.7,445.4 L164.6,446.1 L167.4,446.6 L170.3,447.1 L173.1,447.5 L176.0,447.8 L178.8,447.9 L181.7,448.0 L184.5,448.1 L187.4,448.0 L190.2,447.9 L193.1,447.6 L195.9,447.4 L198.8,447.0 L201.6,446.6 L204.5,446.1 L207.4,445.6 L210.2,445.0 L213.1,444.3 L215.9,443.6 L218.8,442.9 L221.6,442.1 L224.5,441.3 L227.3,440.4 L230.2,439.6 L233.0,438.7 L235.9,437.7 L238.7,436.8 L241.6,435.8 L244.4,434.9 L247.3,433.9 L250.1,432.9 L253.0,431.9 L255.8,431.0 L258.7,430.0 L261.5,429.0 L264.4,428.1 L267.2,427.2 L270.1,426.2 L273.0,425.3 L275.8,424.4 L278.7,423.5 L281.5,422.7 L284.4,421.8 L287.2,420.9 L290.1,420.1 L292.9,419.2 L295.8,418.4 L298.6,417.5 L301.5,416.7 L304.3,415.9 L307.2,415.0 L310.0,414.2 L312.9,413.4 L315.7,412.5" stroke="#f6b088"/>
<path d="M96.4,398.6 L99.3,399.2 L102.2,399.8 L105.0,400.4 L107.9,401.0 L110.7,401.6 L113.6,402.2 L116.4,402.7 L119.3,403.3 L122.1,403.8 L125.0,404.4 L127.8,404.9 L130.7,405.3 L133.5,405.8 L136.4,406.3 L139.2,406.7 L142.1,407.1 L144.9,407.4 L147.8,407.8 L150.6,408.1 L153.5,408.4 L156.3,408.6 L159.2,408.8 L162.0,409.0 L164.9,409.2 L167.8,409.3 L170.6,409.4 L173.5,409.5 L176.3,409.5 L179.2,409.5 L182.0,409.5 L184.9,409.5 L187.7,409.5 L190.6,409.4 L193.4,409.3 L196.3,409.2 L199.1,409.1 L202.0,409.0 L204.8,408.8 L207.7,408.6 L210.5,408.5 L213.4,408.3 L216.2,408.1 L219.1,407.9 L221.9,407.7 L224.8,407.5 L227.6,407.2 L230.5,407.0 L233.4,406.7 L236.2,406.5 L239.1,406.2 L241.9,406.0 L244.8,405.7 L247.6,405.5 L250.5,405.2 L253.3,405.0 L256.2,404.7 L259.0,404.4 L261.9,404.2 L264.7,403.9 L267.6,403.7 L270.4,403.4 L273.3,403.2 L276.1,402.9 L279.0,402.7 L281.8,402.4 L284.7,402.2 L287.5,402.0 L290.4,401.7 L293.2,401.5 L296.1,401.3 L299.0,401.1 L301.8,400.8 L304.7,400.6 L307.5,400.4 L310.4,400.2 L313.2,399.9 L316.1,399.7 L318.9,399.5 L321.8,399.3" stroke="#f0903a"/>
</g>
<line x1="46.7" y1="398.4" x2="328.4" y2="398.4" stroke="#484848" stroke-width="1.1"/>
<g fill="#ff0000">
<path d="M54.20,394.34 L54.88,395.86 L56.53,396.03 L55.29,397.14 L55.64,398.77 L54.20,397.94 L52.76,398.77 L53.11,397.14 L51.87,396.03 L53.53,395.86Z"/>
<path d="M60.24,396.20 L60.91,397.72 L62.57,397.89 L61.33,399.00 L61.68,400.63 L60.24,399.80 L58.80,400.63 L59.14,399.00 L57.91,397.89 L59.56,397.72Z"/>
<path d="M66.27,397.44 L66.95,398.96 L68.60,399.13 L67.37,400.24 L67.71,401.87 L66.27,401.04 L64.83,401.87 L65.18,400.24 L63.94,399.13 L65.60,398.96Z"/>
<path d="M72.31,396.94 L72.98,398.46 L74.64,398.63 L73.40,399.75 L73.75,401.37 L72.31,400.54 L70.87,401.37 L71.21,399.75 L69.98,398.63 L71.63,398.46Z"/>
<path d="M78.34,397.19 L79.02,398.71 L80.67,398.88 L79.44,399.99 L79.78,401.62 L78.34,400.79 L76.90,401.62 L77.25,399.99 L76.01,398.88 L77.67,398.71Z"/>
<path d="M84.38,394.59 L85.05,396.11 L86.71,396.28 L85.47,397.39 L85.82,399.02 L84.38,398.19 L82.94,399.02 L83.28,397.39 L82.05,396.28 L83.70,396.11Z"/>
<path d="M90.41,396.32 L91.09,397.84 L92.74,398.01 L91.51,399.13 L91.85,400.75 L90.41,399.92 L88.97,400.75 L89.32,399.13 L88.08,398.01 L89.74,397.84Z"/>
<path d="M96.45,396.20 L97.12,397.72 L98.78,397.89 L97.54,399.00 L97.89,400.63 L96.45,399.80 L95.01,400.63 L95.36,399.00 L94.12,397.89 L95.77,397.72Z"/>
<path d="M110.53,392.85 L111.21,394.37 L112.86,394.55 L111.62,395.66 L111.97,397.28 L110.53,396.45 L109.09,397.28 L109.44,395.66 L108.20,394.55 L109.86,394.37Z"/>
<path d="M116.57,391.99 L117.24,393.50 L118.90,393.68 L117.66,394.79 L118.01,396.42 L116.57,395.59 L115.13,396.42 L115.47,394.79 L114.24,393.68 L115.89,393.50Z"/>
<path d="M122.60,391.74 L123.28,393.26 L124.93,393.43 L123.70,394.54 L124.04,396.17 L122.60,395.34 L121.16,396.17 L121.51,394.54 L120.27,393.43 L121.93,393.26Z"/>
<path d="M128.64,406.61 L129.31,408.13 L130.97,408.30 L129.73,409.41 L130.08,411.04 L128.64,410.21 L127.20,411.04 L127.54,409.41 L126.31,408.30 L127.96,408.13Z"/>
<path d="M134.67,384.18 L135.35,385.70 L137.00,385.87 L135.77,386.98 L136.11,388.61 L134.67,387.78 L133.23,388.61 L133.58,386.98 L132.34,385.87 L134.00,385.70Z"/>
<path d="M140.71,356.55 L141.38,358.07 L143.04,358.24 L141.80,359.36 L142.15,360.98 L140.71,360.15 L139.27,360.98 L139.61,359.36 L138.38,358.24 L140.03,358.07Z"/>
<path d="M146.74,437.70 L147.42,439.22 L149.07,439.40 L147.84,440.51 L148.18,442.14 L146.74,441.30 L145.30,442.14 L145.65,440.51 L144.41,439.40 L146.07,439.22Z"/>
<path d="M152.78,405.86 L153.45,407.38 L155.11,407.55 L153.87,408.67 L154.22,410.29 L152.78,409.46 L151.34,410.29 L151.69,408.67 L150.45,407.55 L152.10,407.38Z"/>
<path d="M166.86,391.61 L167.54,393.13 L169.19,393.31 L167.95,394.42 L168.30,396.05 L166.86,395.21 L165.42,396.05 L165.77,394.42 L164.53,393.31 L166.19,393.13Z"/>
<path d="M172.90,392.85 L173.57,394.37 L175.23,394.55 L173.99,395.66 L174.34,397.28 L172.90,396.45 L171.46,397.28 L171.80,395.66 L170.57,394.55 L172.22,394.37Z"/>
<path d="M178.93,391.12 L179.61,392.64 L181.26,392.81 L180.03,393.92 L180.37,395.55 L178.93,394.72 L177.49,395.55 L177.84,393.92 L176.60,392.81 L178.26,392.64Z"/>
<path d="M184.97,408.09 L185.64,409.61 L187.30,409.79 L186.06,410.90 L186.41,412.52 L184.97,411.69 L183.53,412.52 L183.87,410.90 L182.64,409.79 L184.29,409.61Z"/>
<path d="M191.00,375.88 L191.68,377.40 L193.33,377.57 L192.10,378.68 L192.44,380.31 L191.00,379.48 L189.56,380.31 L189.91,378.68 L188.67,377.57 L190.33,377.40Z"/>
<path d="M197.04,357.66 L197.71,359.18 L199.37,359.36 L198.13,360.47 L198.48,362.10 L197.04,361.26 L195.60,362.10 L195.94,360.47 L194.71,359.36 L196.36,359.18Z"/>
<path d="M203.07,443.90 L203.75,445.42 L205.40,445.59 L204.17,446.70 L204.51,448.33 L203.07,447.50 L201.63,448.33 L201.98,446.70 L200.74,445.59 L202.40,445.42Z"/>
<path d="M209.11,406.11 L209.78,407.63 L211.44,407.80 L210.20,408.92 L210.55,410.54 L209.11,409.71 L207.67,410.54 L208.02,408.92 L206.78,407.80 L208.43,407.63Z"/>
<path d="M223.19,391.12 L223.87,392.64 L225.52,392.81 L224.28,393.92 L224.63,395.55 L223.19,394.72 L221.75,395.55 L222.10,393.92 L220.86,392.81 L222.52,392.64Z"/>
<path d="M229.23,396.32 L229.90,397.84 L231.56,398.01 L230.32,399.13 L230.67,400.75 L229.23,399.92 L227.79,400.75 L228.13,399.13 L226.90,398.01 L228.55,397.84Z"/>
<path d="M235.26,394.09 L235.94,395.61 L237.59,395.78 L236.36,396.90 L236.70,398.52 L235.26,397.69 L233.82,398.52 L234.17,396.90 L232.93,395.78 L234.59,395.61Z"/>
<path d="M241.30,403.01 L241.97,404.53 L243.63,404.71 L242.39,405.82 L242.74,407.44 L241.30,406.61 L239.86,407.44 L240.20,405.82 L238.97,404.71 L240.62,404.53Z"/>
<path d="M247.33,372.78 L248.01,374.30 L249.66,374.47 L248.43,375.59 L248.77,377.21 L247.33,376.38 L245.89,377.21 L246.24,375.59 L245.00,374.47 L246.66,374.30Z"/>
<path d="M253.37,382.44 L254.04,383.96 L255.70,384.14 L254.46,385.25 L254.81,386.88 L253.37,386.04 L251.93,386.88 L252.27,385.25 L251.04,384.14 L252.69,383.96Z"/>
<path d="M259.40,427.30 L260.08,428.82 L261.73,428.99 L260.50,430.10 L260.84,431.73 L259.40,430.90 L257.96,431.73 L258.31,430.10 L257.07,428.99 L258.73,428.82Z"/>
<path d="M265.44,401.40 L266.11,402.92 L267.77,403.09 L266.53,404.21 L266.88,405.83 L265.44,405.00 L264.00,405.83 L264.35,404.21 L263.11,403.09 L264.76,402.92Z"/>
<path d="M279.52,390.50 L280.20,392.02 L281.85,392.19 L280.61,393.30 L280.96,394.93 L279.52,394.10 L278.08,394.93 L278.43,393.30 L277.19,392.19 L278.85,392.02Z"/>
<path d="M285.56,397.81 L286.23,399.33 L287.89,399.50 L286.65,400.61 L287.00,402.24 L285.56,401.41 L284.12,402.24 L284.46,400.61 L283.23,399.50 L284.88,399.33Z"/>
<path d="M291.59,396.32 L292.27,397.84 L293.92,398.01 L292.69,399.13 L293.03,400.75 L291.59,399.92 L290.15,400.75 L290.50,399.13 L289.26,398.01 L290.92,397.84Z"/>
<path d="M297.63,398.80 L298.30,400.32 L299.96,400.49 L298.72,401.61 L299.07,403.23 L297.63,402.40 L296.19,403.23 L296.53,401.61 L295.30,400.49 L296.95,400.32Z"/>
<path d="M303.66,374.64 L304.34,376.16 L305.99,376.33 L304.76,377.44 L305.10,379.07 L303.66,378.24 L302.22,379.07 L302.57,377.44 L301.33,376.33 L302.99,376.16Z"/>
<path d="M309.70,403.01 L310.37,404.53 L312.03,404.71 L310.79,405.82 L311.14,407.44 L309.70,406.61 L308.26,407.44 L308.60,405.82 L307.37,404.71 L309.02,404.53Z"/>
<path d="M315.73,410.07 L316.41,411.59 L318.06,411.77 L316.83,412.88 L317.17,414.51 L315.73,413.67 L314.29,414.51 L314.64,412.88 L313.40,411.77 L315.06,411.59Z"/>
<path d="M321.77,396.82 L322.44,398.34 L324.10,398.51 L322.86,399.62 L323.21,401.25 L321.77,400.42 L320.33,401.25 L320.68,399.62 L319.44,398.51 L321.09,398.34Z"/>
</g>
<rect x="46.7" y="336.6" width="281.7" height="123.8" fill="none" stroke="#6e6e6e" stroke-width="1.0"/>
<g stroke="#6e6e6e" stroke-width="0.9"><line x1="46.7" y1="444.86" x2="48.5" y2="444.86"/><line x1="46.7" y1="429.38" x2="49.2" y2="429.38"/><line x1="46.7" y1="413.89" x2="48.5" y2="413.89"/><line x1="46.7" y1="398.4" x2="49.2" y2="398.4"/><line x1="46.7" y1="382.91" x2="48.5" y2="382.91"/><line x1="46.7" y1="367.42" x2="49.2" y2="367.42"/><line x1="46.7" y1="351.94" x2="48.5" y2="351.94"/></g>
<text x="43.6" y="339.95" text-anchor="end" font-size="10.0">50</text>
<text x="43.6" y="370.92" text-anchor="end" font-size="10.0">25</text>
<text x="43.6" y="401.9" text-anchor="end" font-size="10.0">0</text>
<text x="43.6" y="432.88" text-anchor="end" font-size="10.0">−25</text>
<text x="43.6" y="463.85" text-anchor="end" font-size="10.0">−50</text>
<rect x="46.7" y="460.4" width="281.7" height="14" fill="#e6dff0" stroke="#5a5a5a" stroke-width="1"/>
<line x1="103.49" y1="460.4" x2="103.49" y2="474.4" stroke="#5a5a5a" stroke-width="1"/>
<line x1="159.82" y1="460.4" x2="159.82" y2="474.4" stroke="#5a5a5a" stroke-width="1"/>
<line x1="216.15" y1="460.4" x2="216.15" y2="474.4" stroke="#5a5a5a" stroke-width="1"/>
<line x1="272.48" y1="460.4" x2="272.48" y2="474.4" stroke="#5a5a5a" stroke-width="1"/>
<text x="75.32" y="470.8" text-anchor="middle" font-size="9.8">2020</text>
<text x="131.66" y="470.8" text-anchor="middle" font-size="9.8">2030</text>
<text x="187.98" y="470.8" text-anchor="middle" font-size="9.8">2040</text>
<text x="244.31" y="470.8" text-anchor="middle" font-size="9.8">2050</text>
<text x="300.64" y="470.8" text-anchor="middle" font-size="9.8">2060</text>
<text transform="translate(26.6,398.5) rotate(-90)" text-anchor="middle" font-size="11.8" textLength="139.5" lengthAdjust="spacing">Carbon emission flows (MT)</text>
<text x="3.4" y="335.8" font-size="16.0" font-weight="bold">e</text>
<clipPath id="clipf"><rect x="386.7" y="336.6" width="281.7" height="123.8"/></clipPath>
<g>
<rect x="390.89" y="396.79" width="6.04" height="1.61" fill="#fde3c8" stroke="#6a6a6a" stroke-width="0.75"/>
<rect x="396.93" y="398.4" width="6.04" height="0.25" fill="#fbb3b3" stroke="#6a6a6a" stroke-width="0.75"/>
<rect x="402.96" y="398.4" width="6.04" height="1.49" fill="#fef2b2" stroke="#6a6a6a" stroke-width="0.75"/>
<rect x="409" y="398.4" width="6.04" height="0.99" fill="#d3ecd3" stroke="#6a6a6a" stroke-width="0.75"/>
<rect x="415.04" y="398.4" width="6.04" height="1.24" fill="#fdc1e1" stroke="#6a6a6a" stroke-width="0.75"/>
<rect x="421.07" y="397.04" width="6.04" height="1.36" fill="#d9cce5" stroke="#6a6a6a" stroke-width="0.75"/>
<rect x="427.11" y="398.4" width="6.04" height="0.37" fill="#d5eef2" stroke="#6a6a6a" stroke-width="0.75"/>
<rect x="433.14" y="398.4" width="6.04" height="0.25" fill="#8ffafa" stroke="#6a6a6a" stroke-width="0.75"/>
<rect x="447.22" y="395.92" width="6.04" height="2.48" fill="#fde3c8" stroke="#6a6a6a" stroke-width="0.75"/>
<rect x="453.26" y="394.56" width="6.04" height="3.84" fill="#fbb3b3" stroke="#6a6a6a" stroke-width="0.75"/>
<rect x="459.29" y="393.94" width="6.04" height="4.46" fill="#fef2b2" stroke="#6a6a6a" stroke-width="0.75"/>
<rect x="465.33" y="398.4" width="6.04" height="9.91" fill="#d3ecd3" stroke="#6a6a6a" stroke-width="0.75"/>
<rect x="471.37" y="386.63" width="6.04" height="11.77" fill="#fdc1e1" stroke="#6a6a6a" stroke-width="0.75"/>
<rect x="477.4" y="359" width="6.04" height="39.4" fill="#d9cce5" stroke="#6a6a6a" stroke-width="0.75"/>
<rect x="483.44" y="398.4" width="6.04" height="40.76" fill="#d5eef2" stroke="#6a6a6a" stroke-width="0.75"/>
<rect x="489.47" y="398.4" width="6.04" height="9.42" fill="#8ffafa" stroke="#6a6a6a" stroke-width="0.75"/>
<rect x="503.55" y="398.4" width="6.04" height="8.55" fill="#fde3c8" stroke="#6a6a6a" stroke-width="0.75"/>
<rect x="509.59" y="386.63" width="6.04" height="11.77" fill="#fbb3b3" stroke="#6a6a6a" stroke-width="0.75"/>
<rect x="515.62" y="391.34" width="6.04" height="7.06" fill="#fef2b2" stroke="#6a6a6a" stroke-width="0.75"/>
<rect x="521.66" y="398.4" width="6.04" height="8.55" fill="#d3ecd3" stroke="#6a6a6a" stroke-width="0.75"/>
<rect x="527.7" y="380.19" width="6.04" height="18.21" fill="#fdc1e1" stroke="#6a6a6a" stroke-width="0.75"/>
<rect x="533.73" y="364.08" width="6.04" height="34.32" fill="#d9cce5" stroke="#6a6a6a" stroke-width="0.75"/>
<rect x="539.77" y="398.4" width="6.04" height="44.11" fill="#d5eef2" stroke="#6a6a6a" stroke-width="0.75"/>
<rect x="545.8" y="398.4" width="6.04" height="7.06" fill="#8ffafa" stroke="#6a6a6a" stroke-width="0.75"/>
<rect x="559.88" y="398.4" width="6.04" height="8.18" fill="#fde3c8" stroke="#6a6a6a" stroke-width="0.75"/>
<rect x="565.92" y="388.49" width="6.04" height="9.91" fill="#fbb3b3" stroke="#6a6a6a" stroke-width="0.75"/>
<rect x="571.95" y="393.57" width="6.04" height="4.83" fill="#fef2b2" stroke="#6a6a6a" stroke-width="0.75"/>
<rect x="577.99" y="398.4" width="6.04" height="5.2" fill="#d3ecd3" stroke="#6a6a6a" stroke-width="0.75"/>
<rect x="584.02" y="379.07" width="6.04" height="19.33" fill="#fdc1e1" stroke="#6a6a6a" stroke-width="0.75"/>
<rect x="590.06" y="383.66" width="6.04" height="14.74" fill="#d9cce5" stroke="#6a6a6a" stroke-width="0.75"/>
<rect x="596.1" y="398.4" width="6.04" height="29.49" fill="#d5eef2" stroke="#6a6a6a" stroke-width="0.75"/>
<rect x="602.13" y="398.4" width="6.04" height="2.85" fill="#8ffafa" stroke="#6a6a6a" stroke-width="0.75"/>
<rect x="616.21" y="398.4" width="6.04" height="5.2" fill="#fde3c8" stroke="#6a6a6a" stroke-width="0.75"/>
<rect x="622.25" y="392.58" width="6.04" height="5.82" fill="#fbb3b3" stroke="#6a6a6a" stroke-width="0.75"/>
<rect x="628.28" y="396.79" width="6.04" height="1.61" fill="#fef2b2" stroke="#6a6a6a" stroke-width="0.75"/>
<rect x="634.32" y="398.4" width="6.04" height="1.86" fill="#d3ecd3" stroke="#6a6a6a" stroke-width="0.75"/>
<rect x="640.36" y="381.3" width="6.04" height="17.1" fill="#fdc1e1" stroke="#6a6a6a" stroke-width="0.75"/>
<rect x="646.39" y="398.4" width="6.04" height="2.48" fill="#d9cce5" stroke="#6a6a6a" stroke-width="0.75"/>
<rect x="652.43" y="398.4" width="6.04" height="14" fill="#d5eef2" stroke="#6a6a6a" stroke-width="0.75"/>
<rect x="658.46" y="398.4" width="6.04" height="0.37" fill="#8ffafa" stroke="#6a6a6a" stroke-width="0.75"/>
</g>
<g clip-path="url(#clipf)" fill="none" stroke-width="0.45" stroke-dasharray="2.4 1.1">
<path d="M393.9,396.8 L396.8,396.5 L399.6,396.3 L402.5,396.1 L405.3,395.8 L408.2,395.6 L411.0,395.4 L413.9,395.3 L416.7,395.1 L419.6,395.0 L422.4,394.9 L425.3,394.8 L428.1,394.7 L431.0,394.7 L433.8,394.8 L436.7,394.9 L439.5,395.0 L442.4,395.2 L445.2,395.4 L448.1,395.7 L451.0,396.0 L453.8,396.4 L456.7,396.9 L459.5,397.4 L462.4,397.9 L465.2,398.5 L468.1,399.1 L470.9,399.7 L473.8,400.4 L476.6,401.0 L479.5,401.7 L482.3,402.3 L485.2,403.0 L488.0,403.6 L490.9,404.2 L493.7,404.8 L496.6,405.4 L499.4,405.9 L502.3,406.3 L505.1,406.8 L508.0,407.1 L510.8,407.4 L513.7,407.7 L516.6,407.9 L519.4,408.0 L522.3,408.1 L525.1,408.2 L528.0,408.2 L530.8,408.2 L533.7,408.1 L536.5,408.1 L539.4,408.0 L542.2,407.8 L545.1,407.7 L547.9,407.5 L550.8,407.4 L553.6,407.2 L556.5,407.0 L559.3,406.8 L562.2,406.6 L565.0,406.4 L567.9,406.3 L570.7,406.1 L573.6,405.9 L576.4,405.8 L579.3,405.6 L582.2,405.4 L585.0,405.3 L587.9,405.1 L590.7,405.0 L593.6,404.8 L596.4,404.7 L599.3,404.6 L602.1,404.4 L605.0,404.3 L607.8,404.1 L610.7,404.0 L613.5,403.9 L616.4,403.7 L619.2,403.6" stroke="#9dd2f2"/>
<path d="M399.9,398.6 L402.8,398.5 L405.7,398.4 L408.5,398.3 L411.4,398.1 L414.2,398.0 L417.1,397.9 L419.9,397.7 L422.8,397.6 L425.6,397.4 L428.5,397.2 L431.3,397.0 L434.2,396.8 L437.0,396.6 L439.9,396.3 L442.7,396.1 L445.6,395.8 L448.4,395.5 L451.3,395.2 L454.1,394.8 L457.0,394.5 L459.8,394.1 L462.7,393.6 L465.5,393.2 L468.4,392.8 L471.3,392.3 L474.1,391.8 L477.0,391.4 L479.8,390.9 L482.7,390.4 L485.5,390.0 L488.4,389.5 L491.2,389.1 L494.1,388.7 L496.9,388.3 L499.8,387.9 L502.6,387.6 L505.5,387.2 L508.3,387.0 L511.2,386.7 L514.0,386.5 L516.9,386.4 L519.7,386.3 L522.6,386.2 L525.4,386.2 L528.3,386.2 L531.1,386.2 L534.0,386.3 L536.8,386.4 L539.7,386.5 L542.6,386.6 L545.4,386.8 L548.3,386.9 L551.1,387.1 L554.0,387.3 L556.8,387.5 L559.7,387.8 L562.5,388.0 L565.4,388.2 L568.2,388.4 L571.1,388.7 L573.9,388.9 L576.8,389.1 L579.6,389.3 L582.5,389.5 L585.3,389.7 L588.2,389.9 L591.0,390.2 L593.9,390.4 L596.7,390.6 L599.6,390.8 L602.4,391.0 L605.3,391.2 L608.2,391.4 L611.0,391.6 L613.9,391.8 L616.7,392.0 L619.6,392.2 L622.4,392.4 L625.3,392.6" stroke="#3a98d8"/>
<path d="M406.0,399.9 L408.8,399.6 L411.7,399.2 L414.5,398.9 L417.4,398.6 L420.2,398.2 L423.1,397.9 L425.9,397.6 L428.8,397.3 L431.7,397.0 L434.5,396.7 L437.4,396.4 L440.2,396.1 L443.1,395.8 L445.9,395.5 L448.8,395.2 L451.6,394.9 L454.5,394.6 L457.3,394.4 L460.2,394.1 L463.0,393.9 L465.9,393.6 L468.7,393.4 L471.6,393.2 L474.4,393.0 L477.3,392.8 L480.1,392.6 L483.0,392.4 L485.8,392.3 L488.7,392.1 L491.5,392.0 L494.4,391.8 L497.3,391.7 L500.1,391.6 L503.0,391.5 L505.8,391.5 L508.7,391.4 L511.5,391.4 L514.4,391.3 L517.2,391.3 L520.1,391.3 L522.9,391.4 L525.8,391.4 L528.6,391.5 L531.5,391.5 L534.3,391.6 L537.2,391.7 L540.0,391.8 L542.9,391.9 L545.7,392.0 L548.6,392.1 L551.4,392.3 L554.3,392.4 L557.1,392.6 L560.0,392.7 L562.9,392.9 L565.7,393.0 L568.6,393.2 L571.4,393.4 L574.3,393.5 L577.1,393.7 L580.0,393.9 L582.8,394.0 L585.7,394.2 L588.5,394.3 L591.4,394.5 L594.2,394.7 L597.1,394.8 L599.9,395.0 L602.8,395.2 L605.6,395.3 L608.5,395.5 L611.3,395.7 L614.2,395.8 L617.0,396.0 L619.9,396.1 L622.7,396.3 L625.6,396.5 L628.4,396.6 L631.3,396.8" stroke="#f2a6c8"/>
<path d="M412.0,399.4 L414.9,400.0 L417.7,400.6 L420.6,401.1 L423.4,401.7 L426.3,402.3 L429.1,402.8 L432.0,403.4 L434.8,403.9 L437.7,404.4 L440.5,404.9 L443.4,405.4 L446.2,405.8 L449.1,406.2 L451.9,406.6 L454.8,407.0 L457.7,407.3 L460.5,407.7 L463.4,407.9 L466.2,408.2 L469.1,408.4 L471.9,408.5 L474.8,408.6 L477.6,408.7 L480.5,408.8 L483.3,408.8 L486.2,408.8 L489.0,408.7 L491.9,408.7 L494.7,408.6 L497.6,408.5 L500.4,408.4 L503.3,408.3 L506.1,408.1 L509.0,407.9 L511.8,407.8 L514.7,407.6 L517.5,407.4 L520.4,407.2 L523.3,407.0 L526.1,406.9 L529.0,406.7 L531.8,406.5 L534.7,406.3 L537.5,406.1 L540.4,406.0 L543.2,405.8 L546.1,405.6 L548.9,405.5 L551.8,405.3 L554.6,405.1 L557.5,405.0 L560.3,404.8 L563.2,404.6 L566.0,404.5 L568.9,404.3 L571.7,404.1 L574.6,404.0 L577.4,403.8 L580.3,403.6 L583.1,403.5 L586.0,403.3 L588.9,403.1 L591.7,403.0 L594.6,402.8 L597.4,402.6 L600.3,402.5 L603.1,402.3 L606.0,402.1 L608.8,402.0 L611.7,401.8 L614.5,401.6 L617.4,401.5 L620.2,401.3 L623.1,401.1 L625.9,400.9 L628.8,400.8 L631.6,400.6 L634.5,400.4 L637.3,400.3" stroke="#e0506a"/>
<path d="M418.1,399.6 L420.9,398.9 L423.8,398.2 L426.6,397.4 L429.5,396.7 L432.3,396.0 L435.2,395.3 L438.0,394.6 L440.9,393.9 L443.7,393.2 L446.6,392.5 L449.4,391.8 L452.3,391.2 L455.1,390.5 L458.0,389.9 L460.8,389.3 L463.7,388.7 L466.5,388.1 L469.4,387.6 L472.2,387.0 L475.1,386.5 L477.9,386.0 L480.8,385.5 L483.7,385.1 L486.5,384.6 L489.4,384.2 L492.2,383.8 L495.1,383.5 L497.9,383.1 L500.8,382.8 L503.6,382.4 L506.5,382.1 L509.3,381.9 L512.2,381.6 L515.0,381.3 L517.9,381.1 L520.7,380.9 L523.6,380.7 L526.4,380.5 L529.3,380.3 L532.1,380.1 L535.0,379.9 L537.8,379.8 L540.7,379.7 L543.5,379.5 L546.4,379.4 L549.3,379.3 L552.1,379.2 L555.0,379.2 L557.8,379.1 L560.7,379.1 L563.5,379.0 L566.4,379.0 L569.2,379.0 L572.1,379.0 L574.9,379.0 L577.8,379.0 L580.6,379.0 L583.5,379.0 L586.3,379.1 L589.2,379.1 L592.0,379.2 L594.9,379.2 L597.7,379.3 L600.6,379.4 L603.4,379.5 L606.3,379.6 L609.1,379.7 L612.0,379.8 L614.9,379.9 L617.7,380.1 L620.6,380.2 L623.4,380.3 L626.3,380.4 L629.1,380.6 L632.0,380.7 L634.8,380.9 L637.7,381.0 L640.5,381.2 L643.4,381.3" stroke="#b0d890"/>
<path d="M424.1,397.0 L426.9,394.6 L429.8,392.1 L432.6,389.7 L435.5,387.3 L438.3,384.9 L441.2,382.6 L444.1,380.3 L446.9,378.1 L449.8,375.9 L452.6,373.8 L455.5,371.8 L458.3,369.9 L461.2,368.1 L464.0,366.4 L466.9,364.8 L469.7,363.3 L472.6,362.0 L475.4,360.8 L478.3,359.7 L481.1,358.8 L484.0,358.0 L486.8,357.4 L489.7,357.0 L492.5,356.7 L495.4,356.5 L498.2,356.4 L501.1,356.5 L503.9,356.7 L506.8,356.9 L509.7,357.3 L512.5,357.7 L515.4,358.3 L518.2,358.9 L521.1,359.5 L523.9,360.3 L526.8,361.1 L529.6,361.9 L532.5,362.7 L535.3,363.6 L538.2,364.5 L541.0,365.5 L543.9,366.4 L546.7,367.4 L549.6,368.4 L552.4,369.3 L555.3,370.3 L558.1,371.3 L561.0,372.3 L563.8,373.4 L566.7,374.4 L569.5,375.4 L572.4,376.4 L575.3,377.4 L578.1,378.5 L581.0,379.5 L583.8,380.5 L586.7,381.5 L589.5,382.4 L592.4,383.4 L595.2,384.4 L598.1,385.3 L600.9,386.3 L603.8,387.2 L606.6,388.1 L609.5,389.0 L612.3,389.9 L615.2,390.8 L618.0,391.6 L620.9,392.5 L623.7,393.4 L626.6,394.2 L629.4,395.1 L632.3,395.9 L635.1,396.7 L638.0,397.6 L640.9,398.4 L643.7,399.2 L646.6,400.1 L649.4,400.9" stroke="#3aa84a"/>
<path d="M430.1,398.8 L433.0,401.3 L435.8,403.7 L438.7,406.2 L441.5,408.6 L444.4,411.0 L447.2,413.4 L450.1,415.8 L452.9,418.1 L455.8,420.3 L458.6,422.5 L461.5,424.6 L464.3,426.6 L467.2,428.6 L470.1,430.5 L472.9,432.2 L475.8,433.9 L478.6,435.5 L481.5,436.9 L484.3,438.2 L487.2,439.5 L490.0,440.5 L492.9,441.5 L495.7,442.3 L498.6,443.0 L501.4,443.6 L504.3,444.1 L507.1,444.4 L510.0,444.7 L512.8,444.9 L515.7,445.0 L518.5,445.0 L521.4,445.0 L524.2,444.8 L527.1,444.6 L529.9,444.4 L532.8,444.0 L535.7,443.7 L538.5,443.2 L541.4,442.8 L544.2,442.2 L547.1,441.7 L549.9,441.1 L552.8,440.5 L555.6,439.8 L558.5,439.2 L561.3,438.5 L564.2,437.8 L567.0,437.0 L569.9,436.3 L572.7,435.5 L575.6,434.7 L578.4,433.9 L581.3,433.1 L584.1,432.2 L587.0,431.4 L589.8,430.6 L592.7,429.8 L595.5,428.9 L598.4,428.1 L601.3,427.3 L604.1,426.5 L607.0,425.6 L609.8,424.8 L612.7,424.0 L615.5,423.2 L618.4,422.4 L621.2,421.7 L624.1,420.9 L626.9,420.1 L629.8,419.3 L632.6,418.5 L635.5,417.8 L638.3,417.0 L641.2,416.2 L644.0,415.5 L646.9,414.7 L649.7,413.9 L652.6,413.2 L655.4,412.4" stroke="#f6b088"/>
<path d="M436.2,398.6 L439.0,399.3 L441.9,399.9 L444.7,400.5 L447.6,401.1 L450.4,401.7 L453.3,402.2 L456.1,402.8 L459.0,403.4 L461.8,403.9 L464.7,404.4 L467.5,404.9 L470.4,405.3 L473.2,405.8 L476.1,406.2 L478.9,406.6 L481.8,406.9 L484.6,407.2 L487.5,407.5 L490.3,407.7 L493.2,407.9 L496.1,408.0 L498.9,408.1 L501.8,408.1 L504.6,408.2 L507.5,408.1 L510.3,408.1 L513.2,408.0 L516.0,407.9 L518.9,407.8 L521.7,407.6 L524.6,407.4 L527.4,407.2 L530.3,407.0 L533.1,406.8 L536.0,406.6 L538.8,406.3 L541.7,406.1 L544.5,405.8 L547.4,405.6 L550.2,405.3 L553.1,405.1 L555.9,404.8 L558.8,404.6 L561.7,404.4 L564.5,404.1 L567.4,403.9 L570.2,403.7 L573.1,403.4 L575.9,403.2 L578.8,403.0 L581.6,402.8 L584.5,402.6 L587.3,402.4 L590.2,402.2 L593.0,402.0 L595.9,401.8 L598.7,401.6 L601.6,401.5 L604.4,401.3 L607.3,401.1 L610.1,401.0 L613.0,400.8 L615.8,400.7 L618.7,400.5 L621.5,400.4 L624.4,400.3 L627.3,400.1 L630.1,400.0 L633.0,399.9 L635.8,399.8 L638.7,399.6 L641.5,399.5 L644.4,399.4 L647.2,399.3 L650.1,399.2 L652.9,399.1 L655.8,399.0 L658.6,398.9 L661.5,398.8" stroke="#f0903a"/>
</g>
<line x1="386.7" y1="398.4" x2="668.4" y2="398.4" stroke="#484848" stroke-width="1.1"/>
<g fill="#ff0000">
<path d="M393.91,394.34 L394.59,395.86 L396.24,396.03 L395.00,397.14 L395.35,398.77 L393.91,397.94 L392.47,398.77 L392.82,397.14 L391.58,396.03 L393.24,395.86Z"/>
<path d="M399.95,396.20 L400.62,397.72 L402.28,397.89 L401.04,399.00 L401.39,400.63 L399.95,399.80 L398.51,400.63 L398.85,399.00 L397.62,397.89 L399.27,397.72Z"/>
<path d="M405.98,397.44 L406.66,398.96 L408.31,399.13 L407.08,400.24 L407.42,401.87 L405.98,401.04 L404.54,401.87 L404.89,400.24 L403.65,399.13 L405.31,398.96Z"/>
<path d="M412.02,396.94 L412.69,398.46 L414.35,398.63 L413.11,399.75 L413.46,401.37 L412.02,400.54 L410.58,401.37 L410.92,399.75 L409.69,398.63 L411.34,398.46Z"/>
<path d="M418.05,397.19 L418.73,398.71 L420.38,398.88 L419.15,399.99 L419.49,401.62 L418.05,400.79 L416.61,401.62 L416.96,399.99 L415.72,398.88 L417.38,398.71Z"/>
<path d="M424.09,394.59 L424.76,396.11 L426.42,396.28 L425.18,397.39 L425.53,399.02 L424.09,398.19 L422.65,399.02 L422.99,397.39 L421.76,396.28 L423.41,396.11Z"/>
<path d="M430.12,396.32 L430.80,397.84 L432.45,398.01 L431.22,399.13 L431.56,400.75 L430.12,399.92 L428.68,400.75 L429.03,399.13 L427.79,398.01 L429.45,397.84Z"/>
<path d="M436.16,396.20 L436.83,397.72 L438.49,397.89 L437.25,399.00 L437.60,400.63 L436.16,399.80 L434.72,400.63 L435.07,399.00 L433.83,397.89 L435.48,397.72Z"/>
<path d="M450.24,393.47 L450.92,394.99 L452.57,395.16 L451.33,396.28 L451.68,397.90 L450.24,397.07 L448.80,397.90 L449.15,396.28 L447.91,395.16 L449.57,394.99Z"/>
<path d="M456.28,392.11 L456.95,393.63 L458.61,393.80 L457.37,394.91 L457.72,396.54 L456.28,395.71 L454.84,396.54 L455.18,394.91 L453.95,393.80 L455.60,393.63Z"/>
<path d="M462.31,391.49 L462.99,393.01 L464.64,393.18 L463.41,394.29 L463.75,395.92 L462.31,395.09 L460.87,395.92 L461.22,394.29 L459.98,393.18 L461.64,393.01Z"/>
<path d="M468.35,405.86 L469.02,407.38 L470.68,407.55 L469.44,408.67 L469.79,410.29 L468.35,409.46 L466.91,410.29 L467.25,408.67 L466.02,407.55 L467.67,407.38Z"/>
<path d="M474.38,384.18 L475.06,385.70 L476.71,385.87 L475.48,386.98 L475.82,388.61 L474.38,387.78 L472.94,388.61 L473.29,386.98 L472.05,385.87 L473.71,385.70Z"/>
<path d="M480.42,356.55 L481.09,358.07 L482.75,358.24 L481.51,359.36 L481.86,360.98 L480.42,360.15 L478.98,360.98 L479.32,359.36 L478.09,358.24 L479.74,358.07Z"/>
<path d="M486.45,436.71 L487.13,438.23 L488.78,438.41 L487.55,439.52 L487.89,441.15 L486.45,440.31 L485.01,441.15 L485.36,439.52 L484.12,438.41 L485.78,438.23Z"/>
<path d="M492.49,405.37 L493.16,406.89 L494.82,407.06 L493.58,408.17 L493.93,409.80 L492.49,408.97 L491.05,409.80 L491.40,408.17 L490.16,407.06 L491.81,406.89Z"/>
<path d="M506.57,404.50 L507.25,406.02 L508.90,406.19 L507.66,407.30 L508.01,408.93 L506.57,408.10 L505.13,408.93 L505.48,407.30 L504.24,406.19 L505.90,406.02Z"/>
<path d="M512.61,384.18 L513.28,385.70 L514.94,385.87 L513.70,386.98 L514.05,388.61 L512.61,387.78 L511.17,388.61 L511.51,386.98 L510.28,385.87 L511.93,385.70Z"/>
<path d="M518.64,388.89 L519.32,390.41 L520.97,390.58 L519.74,391.69 L520.08,393.32 L518.64,392.49 L517.20,393.32 L517.55,391.69 L516.31,390.58 L517.97,390.41Z"/>
<path d="M524.68,404.50 L525.35,406.02 L527.01,406.19 L525.77,407.30 L526.12,408.93 L524.68,408.10 L523.24,408.93 L523.58,407.30 L522.35,406.19 L524.00,406.02Z"/>
<path d="M530.71,377.74 L531.39,379.26 L533.04,379.43 L531.81,380.54 L532.15,382.17 L530.71,381.34 L529.27,382.17 L529.62,380.54 L528.38,379.43 L530.04,379.26Z"/>
<path d="M536.75,361.63 L537.42,363.15 L539.08,363.32 L537.84,364.44 L538.19,366.06 L536.75,365.23 L535.31,366.06 L535.65,364.44 L534.42,363.32 L536.07,363.15Z"/>
<path d="M542.78,440.06 L543.46,441.58 L545.11,441.75 L543.88,442.86 L544.22,444.49 L542.78,443.66 L541.34,444.49 L541.69,442.86 L540.45,441.75 L542.11,441.58Z"/>
<path d="M548.82,403.01 L549.49,404.53 L551.15,404.71 L549.91,405.82 L550.26,407.44 L548.82,406.61 L547.38,407.44 L547.73,405.82 L546.49,404.71 L548.14,404.53Z"/>
<path d="M562.90,404.13 L563.58,405.65 L565.23,405.82 L563.99,406.93 L564.34,408.56 L562.90,407.73 L561.46,408.56 L561.81,406.93 L560.57,405.82 L562.23,405.65Z"/>
<path d="M568.94,386.04 L569.61,387.56 L571.27,387.73 L570.03,388.84 L570.38,390.47 L568.94,389.64 L567.50,390.47 L567.84,388.84 L566.61,387.73 L568.26,387.56Z"/>
<path d="M574.97,391.12 L575.65,392.64 L577.30,392.81 L576.07,393.92 L576.41,395.55 L574.97,394.72 L573.53,395.55 L573.88,393.92 L572.64,392.81 L574.30,392.64Z"/>
<path d="M581.01,401.15 L581.68,402.67 L583.34,402.85 L582.10,403.96 L582.45,405.59 L581.01,404.75 L579.57,405.59 L579.91,403.96 L578.68,402.85 L580.33,402.67Z"/>
<path d="M587.04,376.62 L587.72,378.14 L589.37,378.31 L588.14,379.43 L588.48,381.05 L587.04,380.22 L585.60,381.05 L585.95,379.43 L584.71,378.31 L586.37,378.14Z"/>
<path d="M593.08,381.21 L593.75,382.73 L595.41,382.90 L594.17,384.01 L594.52,385.64 L593.08,384.81 L591.64,385.64 L591.98,384.01 L590.75,382.90 L592.40,382.73Z"/>
<path d="M599.11,425.44 L599.79,426.96 L601.44,427.13 L600.21,428.24 L600.55,429.87 L599.11,429.04 L597.67,429.87 L598.02,428.24 L596.78,427.13 L598.44,426.96Z"/>
<path d="M605.15,398.80 L605.82,400.32 L607.48,400.49 L606.24,401.61 L606.59,403.23 L605.15,402.40 L603.71,403.23 L604.06,401.61 L602.82,400.49 L604.47,400.32Z"/>
<path d="M619.23,401.15 L619.91,402.67 L621.56,402.85 L620.32,403.96 L620.67,405.59 L619.23,404.75 L617.79,405.59 L618.14,403.96 L616.90,402.85 L618.56,402.67Z"/>
<path d="M625.27,390.13 L625.94,391.65 L627.60,391.82 L626.36,392.93 L626.71,394.56 L625.27,393.73 L623.83,394.56 L624.17,392.93 L622.94,391.82 L624.59,391.65Z"/>
<path d="M631.30,394.34 L631.98,395.86 L633.63,396.03 L632.40,397.14 L632.74,398.77 L631.30,397.94 L629.86,398.77 L630.21,397.14 L628.97,396.03 L630.63,395.86Z"/>
<path d="M637.34,397.81 L638.01,399.33 L639.67,399.50 L638.43,400.61 L638.78,402.24 L637.34,401.41 L635.90,402.24 L636.24,400.61 L635.01,399.50 L636.66,399.33Z"/>
<path d="M643.37,378.85 L644.05,380.37 L645.70,380.54 L644.47,381.66 L644.81,383.28 L643.37,382.45 L641.93,383.28 L642.28,381.66 L641.04,380.54 L642.70,380.37Z"/>
<path d="M649.41,398.43 L650.08,399.95 L651.74,400.12 L650.50,401.23 L650.85,402.86 L649.41,402.03 L647.97,402.86 L648.31,401.23 L647.08,400.12 L648.73,399.95Z"/>
<path d="M655.44,409.95 L656.12,411.47 L657.77,411.64 L656.54,412.76 L656.88,414.38 L655.44,413.55 L654.00,414.38 L654.35,412.76 L653.11,411.64 L654.77,411.47Z"/>
<path d="M661.48,396.32 L662.15,397.84 L663.81,398.01 L662.57,399.13 L662.92,400.75 L661.48,399.92 L660.04,400.75 L660.39,399.13 L659.15,398.01 L660.80,397.84Z"/>
</g>
<rect x="386.7" y="336.6" width="281.7" height="123.8" fill="none" stroke="#6e6e6e" stroke-width="1.0"/>
<g stroke="#6e6e6e" stroke-width="0.9"><line x1="386.7" y1="444.86" x2="388.5" y2="444.86"/><line x1="386.7" y1="429.38" x2="389.2" y2="429.38"/><line x1="386.7" y1="413.89" x2="388.5" y2="413.89"/><line x1="386.7" y1="398.4" x2="389.2" y2="398.4"/><line x1="386.7" y1="382.91" x2="388.5" y2="382.91"/><line x1="386.7" y1="367.42" x2="389.2" y2="367.42"/><line x1="386.7" y1="351.94" x2="388.5" y2="351.94"/></g>
<text x="383.6" y="339.95" text-anchor="end" font-size="10.0">50</text>
<text x="383.6" y="370.92" text-anchor="end" font-size="10.0">25</text>
<text x="383.6" y="401.9" text-anchor="end" font-size="10.0">0</text>
<text x="383.6" y="432.88" text-anchor="end" font-size="10.0">−25</text>
<text x="383.6" y="463.85" text-anchor="end" font-size="10.0">−50</text>
<rect x="386.7" y="460.4" width="281.7" height="14" fill="#e6dff0" stroke="#5a5a5a" stroke-width="1"/>
<line x1="443.2" y1="460.4" x2="443.2" y2="474.4" stroke="#5a5a5a" stroke-width="1"/>
<line x1="499.53" y1="460.4" x2="499.53" y2="474.4" stroke="#5a5a5a" stroke-width="1"/>
<line x1="555.86" y1="460.4" x2="555.86" y2="474.4" stroke="#5a5a5a" stroke-width="1"/>
<line x1="612.19" y1="460.4" x2="612.19" y2="474.4" stroke="#5a5a5a" stroke-width="1"/>
<text x="415.04" y="470.8" text-anchor="middle" font-size="9.8">2020</text>
<text x="471.37" y="470.8" text-anchor="middle" font-size="9.8">2030</text>
<text x="527.69" y="470.8" text-anchor="middle" font-size="9.8">2040</text>
<text x="584.02" y="470.8" text-anchor="middle" font-size="9.8">2050</text>
<text x="640.36" y="470.8" text-anchor="middle" font-size="9.8">2060</text>
<text transform="translate(367.3,398.3) rotate(-90)" text-anchor="middle" font-size="11.8" textLength="139.5" lengthAdjust="spacing">Carbon emission flows (MT)</text>
<text x="344.3" y="335.5" font-size="16.0" font-weight="bold">f</text>
<rect x="0.5" y="488.5" width="85.8" height="7" fill="#fde3c8"/>
<rect x="86" y="488.5" width="85.8" height="7" fill="#fbb3b3"/>
<rect x="171.5" y="488.5" width="85.8" height="7" fill="#fef2b2"/>
<rect x="257" y="488.5" width="85.8" height="7" fill="#d3ecd3"/>
<rect x="342.5" y="488.5" width="85.8" height="7" fill="#fdc1e1"/>
<rect x="428" y="488.5" width="85.8" height="7" fill="#d9cce5"/>
<rect x="513.5" y="488.5" width="85.8" height="7" fill="#d5eef2"/>
<rect x="599" y="488.5" width="85.8" height="7" fill="#8ffafa"/>
<rect x="0.5" y="488.5" width="684" height="7" fill="none" stroke="#3c3c3c" stroke-width="1"/>
<line x1="0.8" y1="488.5" x2="0.8" y2="495.5" stroke="#000" stroke-width="1.6"/>
<line x1="43.25" y1="495.5" x2="43.25" y2="497.5" stroke="#666" stroke-width="0.8"/>
<text x="43.25" y="507.8" text-anchor="middle" font-size="9.2">Beijing-Tianjin-Hebei</text>
<text x="43.25" y="518.0" text-anchor="middle" font-size="9.2">hub</text>
<line x1="128.75" y1="495.5" x2="128.75" y2="497.5" stroke="#666" stroke-width="0.8"/>
<text x="128.75" y="507.8" text-anchor="middle" font-size="9.2">Yangtze River Delta</text>
<text x="128.75" y="518.0" text-anchor="middle" font-size="9.2">hub</text>
<line x1="214.25" y1="495.5" x2="214.25" y2="497.5" stroke="#666" stroke-width="0.8"/>
<text x="214.25" y="507.8" text-anchor="middle" font-size="9.2">Guangdong-Hong</text>
<text x="214.25" y="518.0" text-anchor="middle" font-size="9.2">Kong-Macao hub</text>
<line x1="299.75" y1="495.5" x2="299.75" y2="497.5" stroke="#666" stroke-width="0.8"/>
<text x="299.75" y="507.8" text-anchor="middle" font-size="9.2">Chengdu-Chongqing</text>
<text x="299.75" y="518.0" text-anchor="middle" font-size="9.2">hub</text>
<line x1="385.25" y1="495.5" x2="385.25" y2="497.5" stroke="#666" stroke-width="0.8"/>
<text x="385.25" y="507.8" text-anchor="middle" font-size="9.2">Guizhou hub</text>
<line x1="470.75" y1="495.5" x2="470.75" y2="497.5" stroke="#666" stroke-width="0.8"/>
<text x="470.75" y="507.8" text-anchor="middle" font-size="9.2">Inner Mongolia hub</text>
<line x1="556.25" y1="495.5" x2="556.25" y2="497.5" stroke="#666" stroke-width="0.8"/>
<text x="556.25" y="507.8" text-anchor="middle" font-size="9.2">Gansu hub</text>
<line x1="641.75" y1="495.5" x2="641.75" y2="497.5" stroke="#666" stroke-width="0.8"/>
<text x="641.75" y="507.8" text-anchor="middle" font-size="9.2">Ningxia hub</text></svg>
</body></html>
